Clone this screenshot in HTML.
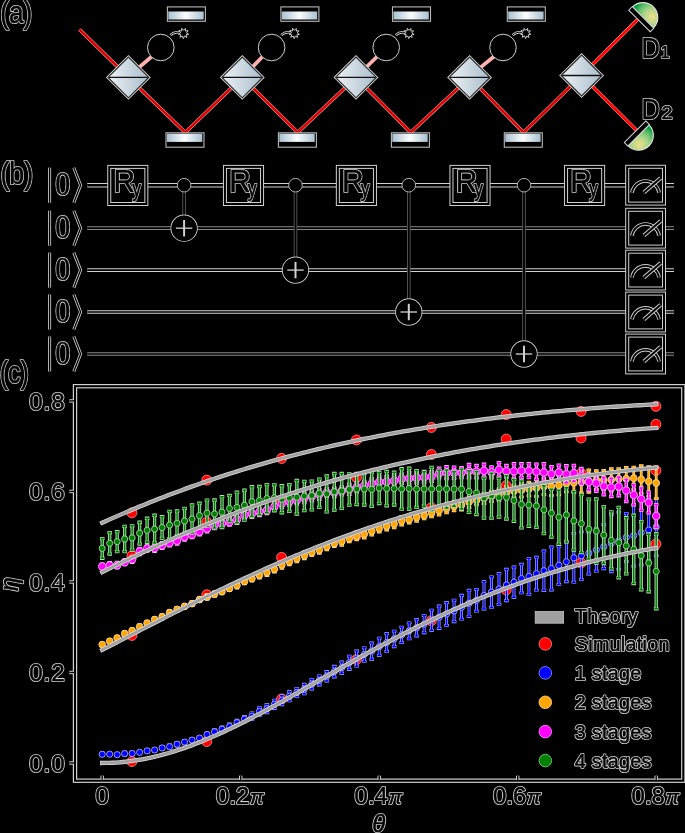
<!DOCTYPE html>
<html><head><meta charset="utf-8"><style>
html,body{margin:0;padding:0;background:#000;}
svg{display:block;will-change:transform;}
text{font-family:"Liberation Sans", sans-serif;}
</style></head><body>
<svg width="685" height="833" viewBox="0 0 685 833">
<rect width="685" height="833" fill="#000"/>
<g transform="translate(0.3,23.1) scale(0.86,1)">
<text x="0" y="0" font-size="30.5" text-anchor="start" fill="#000" stroke="#d4d4d4" stroke-width="2.2" stroke-linejoin="round"  style="">(a)</text>
<text x="0" y="0" font-size="30.5" text-anchor="start" fill="#000" stroke="#000" stroke-width="0.5" stroke-linejoin="round"  style="">(a)</text>
</g>
<path d="M79.5,29.5 L128.4,77.4 L185.3,132.5 L242.3,77.4 L297.7,132.5 L356,77.4 L410.7,132.5 L469.6,77.4 L523.6,132.5 L581.6,75.5" fill="none" stroke="#f4a8a8" stroke-width="3.6" stroke-linejoin="miter"/>
<path d="M79.5,29.5 L128.4,77.4 L185.3,132.5 L242.3,77.4 L297.7,132.5 L356,77.4 L410.7,132.5 L469.6,77.4 L523.6,132.5 L581.6,75.5" fill="none" stroke="#d80000" stroke-width="2.5" stroke-linejoin="miter"/>
<path d="M581.6,75.5 L637.6,19.6" fill="none" stroke="#f4a8a8" stroke-width="3.6" stroke-linejoin="miter"/>
<path d="M581.6,75.5 L637.6,19.6" fill="none" stroke="#ff0000" stroke-width="2.5" stroke-linejoin="miter"/>
<path d="M581.6,75.5 L637.2,131" fill="none" stroke="#f4a8a8" stroke-width="3.6" stroke-linejoin="miter"/>
<path d="M581.6,75.5 L637.2,131" fill="none" stroke="#ff0000" stroke-width="2.5" stroke-linejoin="miter"/>
<line x1="134.4" y1="71.4" x2="151.8" y2="56.5" stroke="#ffb0b0" stroke-width="3.7"/>
<line x1="248.3" y1="71.4" x2="262.6" y2="56.5" stroke="#ffb0b0" stroke-width="3.7"/>
<line x1="362" y1="71.4" x2="377.2" y2="56.5" stroke="#ffb0b0" stroke-width="3.7"/>
<line x1="475.6" y1="71.4" x2="494" y2="56.5" stroke="#ffb0b0" stroke-width="3.7"/>
<defs>
<linearGradient id="bsg" x1="0" y1="0" x2="1" y2="0">
<stop offset="0" stop-color="#eef2f5"/><stop offset="1" stop-color="#a9bccb"/></linearGradient>
<linearGradient id="mg" x1="0" y1="0" x2="1" y2="0">
<stop offset="0" stop-color="#a9c0cf"/><stop offset="0.5" stop-color="#fbfdfe"/><stop offset="1" stop-color="#a9c0cf"/></linearGradient>
<radialGradient id="dg" gradientUnits="userSpaceOnUse" cx="6" cy="-7" r="19">
<stop offset="0" stop-color="#f3df88"/><stop offset="0.45" stop-color="#a6d588"/><stop offset="0.78" stop-color="#57b866"/><stop offset="1" stop-color="#07a040"/></radialGradient>
</defs>
<path d="M108,77.4 L128.4,57 L148.8,77.4 L128.4,97.8 Z" fill="none" stroke="#d8d8d8" stroke-width="2.9" stroke-linejoin="miter"/>
<path d="M108,77.4 L128.4,57 L148.8,77.4 L128.4,97.8 Z" fill="url(#bsg)" stroke="#222" stroke-width="1.1"/>
<line x1="109" y1="77.4" x2="147.8" y2="77.4" stroke="#111" stroke-width="1.4"/>
<path d="M221.9,77.4 L242.3,57 L262.7,77.4 L242.3,97.8 Z" fill="none" stroke="#d8d8d8" stroke-width="2.9" stroke-linejoin="miter"/>
<path d="M221.9,77.4 L242.3,57 L262.7,77.4 L242.3,97.8 Z" fill="url(#bsg)" stroke="#222" stroke-width="1.1"/>
<line x1="222.9" y1="77.4" x2="261.7" y2="77.4" stroke="#111" stroke-width="1.4"/>
<path d="M335.6,77.4 L356,57 L376.4,77.4 L356,97.8 Z" fill="none" stroke="#d8d8d8" stroke-width="2.9" stroke-linejoin="miter"/>
<path d="M335.6,77.4 L356,57 L376.4,77.4 L356,97.8 Z" fill="url(#bsg)" stroke="#222" stroke-width="1.1"/>
<line x1="336.6" y1="77.4" x2="375.4" y2="77.4" stroke="#111" stroke-width="1.4"/>
<path d="M449.2,77.4 L469.6,57 L490,77.4 L469.6,97.8 Z" fill="none" stroke="#d8d8d8" stroke-width="2.9" stroke-linejoin="miter"/>
<path d="M449.2,77.4 L469.6,57 L490,77.4 L469.6,97.8 Z" fill="url(#bsg)" stroke="#222" stroke-width="1.1"/>
<line x1="450.2" y1="77.4" x2="489" y2="77.4" stroke="#111" stroke-width="1.4"/>
<path d="M561.2,75.5 L581.6,55.1 L602,75.5 L581.6,95.9 Z" fill="none" stroke="#d8d8d8" stroke-width="2.9" stroke-linejoin="miter"/>
<path d="M561.2,75.5 L581.6,55.1 L602,75.5 L581.6,95.9 Z" fill="url(#bsg)" stroke="#222" stroke-width="1.1"/>
<line x1="562.2" y1="75.5" x2="601" y2="75.5" stroke="#111" stroke-width="1.4"/>
<rect x="167.4" y="6.9" width="38" height="14.4" fill="#000" stroke="#b8b8b8" stroke-width="1.1"/>
<rect x="168.3" y="11.5" width="35.4" height="8.0" fill="url(#mg)"/>
<rect x="280.9" y="6.9" width="38" height="14.4" fill="#000" stroke="#b8b8b8" stroke-width="1.1"/>
<rect x="281.8" y="11.5" width="35.4" height="8.0" fill="url(#mg)"/>
<rect x="392.5" y="6.9" width="38" height="14.4" fill="#000" stroke="#b8b8b8" stroke-width="1.1"/>
<rect x="393.4" y="11.5" width="35.4" height="8.0" fill="url(#mg)"/>
<rect x="507.3" y="6.9" width="38" height="14.4" fill="#000" stroke="#b8b8b8" stroke-width="1.1"/>
<rect x="508.2" y="11.5" width="35.4" height="8.0" fill="url(#mg)"/>
<rect x="166" y="132.8" width="38" height="14.4" fill="#000" stroke="#b8b8b8" stroke-width="1.1"/>
<rect x="166.9" y="133.7" width="35.4" height="8.2" fill="url(#mg)"/>
<rect x="278.4" y="132.8" width="38" height="14.4" fill="#000" stroke="#b8b8b8" stroke-width="1.1"/>
<rect x="279.3" y="133.7" width="35.4" height="8.2" fill="url(#mg)"/>
<rect x="391.4" y="132.8" width="38" height="14.4" fill="#000" stroke="#b8b8b8" stroke-width="1.1"/>
<rect x="392.3" y="133.7" width="35.4" height="8.2" fill="url(#mg)"/>
<rect x="504.3" y="132.8" width="38" height="14.4" fill="#000" stroke="#b8b8b8" stroke-width="1.1"/>
<rect x="505.2" y="133.7" width="35.4" height="8.2" fill="url(#mg)"/>
<circle cx="160.8" cy="47.5" r="13.3" fill="#000" stroke="#cfcfcf" stroke-width="1.0"/>
<path d="M170.4,35.2 Q174.3,31.3 180.3,32.5" fill="none" stroke="#d8d8d8" stroke-width="2.4"/>
<path d="M170.4,35.2 Q174.3,31.3 180.3,32.5" fill="none" stroke="#000" stroke-width="1.0"/>
<polygon points="188.69,34.35 186.06,34.87 186.8,37.45 184.45,36.14 183.37,38.6 182.4,36.09 179.99,37.27 180.86,34.73 178.26,34.09 180.56,32.7 178.98,30.53 181.63,30.95 181.81,28.28 183.58,30.3 185.44,28.37 185.49,31.05 188.16,30.77 186.47,32.85" fill="#000" stroke="#e0e0e0" stroke-width="0.9"/>
<circle cx="271.6" cy="47.5" r="13.3" fill="#000" stroke="#cfcfcf" stroke-width="1.0"/>
<path d="M281.2,35.2 Q285.1,31.3 291.1,32.5" fill="none" stroke="#d8d8d8" stroke-width="2.4"/>
<path d="M281.2,35.2 Q285.1,31.3 291.1,32.5" fill="none" stroke="#000" stroke-width="1.0"/>
<polygon points="299.49,34.35 296.86,34.87 297.6,37.45 295.25,36.14 294.17,38.6 293.2,36.09 290.79,37.27 291.66,34.73 289.06,34.09 291.36,32.7 289.78,30.53 292.43,30.95 292.61,28.28 294.38,30.3 296.24,28.37 296.29,31.05 298.96,30.77 297.27,32.85" fill="#000" stroke="#e0e0e0" stroke-width="0.9"/>
<circle cx="386.2" cy="47.5" r="13.3" fill="#000" stroke="#cfcfcf" stroke-width="1.0"/>
<path d="M395.8,35.2 Q399.7,31.3 405.7,32.5" fill="none" stroke="#d8d8d8" stroke-width="2.4"/>
<path d="M395.8,35.2 Q399.7,31.3 405.7,32.5" fill="none" stroke="#000" stroke-width="1.0"/>
<polygon points="414.09,34.35 411.46,34.87 412.2,37.45 409.85,36.14 408.77,38.6 407.8,36.09 405.39,37.27 406.26,34.73 403.66,34.09 405.96,32.7 404.38,30.53 407.03,30.95 407.21,28.28 408.98,30.3 410.84,28.37 410.89,31.05 413.56,30.77 411.87,32.85" fill="#000" stroke="#e0e0e0" stroke-width="0.9"/>
<circle cx="503" cy="47.5" r="13.3" fill="#000" stroke="#cfcfcf" stroke-width="1.0"/>
<path d="M512.6,35.2 Q516.5,31.3 522.5,32.5" fill="none" stroke="#d8d8d8" stroke-width="2.4"/>
<path d="M512.6,35.2 Q516.5,31.3 522.5,32.5" fill="none" stroke="#000" stroke-width="1.0"/>
<polygon points="530.89,34.35 528.26,34.87 529,37.45 526.65,36.14 525.57,38.6 524.6,36.09 522.19,37.27 523.06,34.73 520.46,34.09 522.76,32.7 521.18,30.53 523.83,30.95 524.01,28.28 525.78,30.3 527.64,28.37 527.69,31.05 530.36,30.77 528.67,32.85" fill="#000" stroke="#e0e0e0" stroke-width="0.9"/>
<g transform="translate(643,17.4) rotate(45)">
<path d="M-14.8,0 A14.8,14.8 0 0 1 14.8,0 Z" fill="url(#dg)" stroke="#e4e4e4" stroke-width="1.1"/>
<rect x="-15.2" y="0" width="30.4" height="5.0" fill="#000" stroke="#d8d8d8" stroke-width="1.0"/>
</g>
<g transform="translate(638.6,135.3) rotate(135)">
<path d="M-14.8,0 A14.8,14.8 0 0 1 14.8,0 Z" fill="url(#dg)" stroke="#e4e4e4" stroke-width="1.1"/>
<rect x="-15.2" y="0" width="30.4" height="5.0" fill="#000" stroke="#d8d8d8" stroke-width="1.0"/>
</g>
<g transform="translate(641.5,58.3) scale(0.86,1)">
<text x="0" y="0" font-size="29.5" text-anchor="start" fill="#000" stroke="#d4d4d4" stroke-width="2.1" stroke-linejoin="round"  style="">D</text>
<text x="0" y="0" font-size="29.5" text-anchor="start" fill="#000" stroke="#000" stroke-width="0.5" stroke-linejoin="round"  style="">D</text>
</g>
<text x="660.5" y="58.3" font-size="16.5" text-anchor="start" fill="#000" stroke="#d4d4d4" stroke-width="2" stroke-linejoin="round"  style="">1</text>
<text x="660.5" y="58.3" font-size="16.5" text-anchor="start" fill="#000" stroke="#000" stroke-width="0.5" stroke-linejoin="round"  style="">1</text>
<g transform="translate(641.5,118.5) scale(0.86,1)">
<text x="0" y="0" font-size="29.5" text-anchor="start" fill="#000" stroke="#d4d4d4" stroke-width="2.1" stroke-linejoin="round"  style="">D</text>
<text x="0" y="0" font-size="29.5" text-anchor="start" fill="#000" stroke="#000" stroke-width="0.5" stroke-linejoin="round"  style="">D</text>
</g>
<g transform="translate(661.6,118.6) scale(1.12,1)">
<text x="0" y="0" font-size="17.8" text-anchor="start" fill="#000" stroke="#d4d4d4" stroke-width="2" stroke-linejoin="round"  style="">2</text>
<text x="0" y="0" font-size="17.8" text-anchor="start" fill="#000" stroke="#000" stroke-width="0.5" stroke-linejoin="round"  style="">2</text>
</g>
<g transform="translate(0.4,184.2) scale(0.88,1)">
<text x="0" y="0" font-size="30.5" text-anchor="start" fill="#000" stroke="#d4d4d4" stroke-width="2.2" stroke-linejoin="round"  style="">(b)</text>
<text x="0" y="0" font-size="30.5" text-anchor="start" fill="#000" stroke="#000" stroke-width="0.5" stroke-linejoin="round"  style="">(b)</text>
</g>
<line x1="87.2" y1="185.2" x2="674" y2="185.2" stroke="#d0d0d0" stroke-width="4.6" stroke-linecap="butt"/>
<line x1="87.2" y1="185.2" x2="674" y2="185.2" stroke="#000" stroke-width="2.6" stroke-linecap="butt"/>
<line x1="87.2" y1="228.2" x2="674" y2="228.2" stroke="#8a8a8a" stroke-width="3.7" stroke-linecap="butt"/>
<line x1="87.2" y1="228.2" x2="674" y2="228.2" stroke="#000" stroke-width="1.7" stroke-linecap="butt"/>
<line x1="87.2" y1="270.1" x2="674" y2="270.1" stroke="#d0d0d0" stroke-width="3.7" stroke-linecap="butt"/>
<line x1="87.2" y1="270.1" x2="674" y2="270.1" stroke="#000" stroke-width="1.7" stroke-linecap="butt"/>
<line x1="87.2" y1="312" x2="674" y2="312" stroke="#d0d0d0" stroke-width="3.7" stroke-linecap="butt"/>
<line x1="87.2" y1="312" x2="674" y2="312" stroke="#000" stroke-width="1.7" stroke-linecap="butt"/>
<line x1="87.2" y1="354" x2="674" y2="354" stroke="#8a8a8a" stroke-width="3.7" stroke-linecap="butt"/>
<line x1="87.2" y1="354" x2="674" y2="354" stroke="#000" stroke-width="1.7" stroke-linecap="butt"/>
<line x1="49.6" y1="167.7" x2="49.6" y2="202.7" stroke="#d0d0d0" stroke-width="3" stroke-linecap="butt"/>
<line x1="49.6" y1="167.7" x2="49.6" y2="202.7" stroke="#000" stroke-width="1.3" stroke-linecap="butt"/>
<path d="M73.8,167.7 L80.6,185.2 L73.8,202.7" fill="none" stroke="#d0d0d0" stroke-width="3.0"/>
<path d="M73.8,167.7 L80.6,185.2 L73.8,202.7" fill="none" stroke="#000" stroke-width="1.3"/>
<g transform="translate(55.3,195.2) scale(0.87,1)">
<text x="0" y="0" font-size="34.5" text-anchor="start" fill="#000" stroke="#d4d4d4" stroke-width="2.1" stroke-linejoin="round"  style="font-family:'Liberation Serif',serif">0</text>
<text x="0" y="0" font-size="34.5" text-anchor="start" fill="#000" stroke="#000" stroke-width="0.5" stroke-linejoin="round"  style="font-family:'Liberation Serif',serif">0</text>
</g>
<line x1="49.6" y1="210.7" x2="49.6" y2="245.7" stroke="#d0d0d0" stroke-width="3" stroke-linecap="butt"/>
<line x1="49.6" y1="210.7" x2="49.6" y2="245.7" stroke="#000" stroke-width="1.3" stroke-linecap="butt"/>
<path d="M73.8,210.7 L80.6,228.2 L73.8,245.7" fill="none" stroke="#d0d0d0" stroke-width="3.0"/>
<path d="M73.8,210.7 L80.6,228.2 L73.8,245.7" fill="none" stroke="#000" stroke-width="1.3"/>
<g transform="translate(55.3,238.2) scale(0.87,1)">
<text x="0" y="0" font-size="34.5" text-anchor="start" fill="#000" stroke="#d4d4d4" stroke-width="2.1" stroke-linejoin="round"  style="font-family:'Liberation Serif',serif">0</text>
<text x="0" y="0" font-size="34.5" text-anchor="start" fill="#000" stroke="#000" stroke-width="0.5" stroke-linejoin="round"  style="font-family:'Liberation Serif',serif">0</text>
</g>
<line x1="49.6" y1="252.6" x2="49.6" y2="287.6" stroke="#d0d0d0" stroke-width="3" stroke-linecap="butt"/>
<line x1="49.6" y1="252.6" x2="49.6" y2="287.6" stroke="#000" stroke-width="1.3" stroke-linecap="butt"/>
<path d="M73.8,252.6 L80.6,270.1 L73.8,287.6" fill="none" stroke="#d0d0d0" stroke-width="3.0"/>
<path d="M73.8,252.6 L80.6,270.1 L73.8,287.6" fill="none" stroke="#000" stroke-width="1.3"/>
<g transform="translate(55.3,280.1) scale(0.87,1)">
<text x="0" y="0" font-size="34.5" text-anchor="start" fill="#000" stroke="#d4d4d4" stroke-width="2.1" stroke-linejoin="round"  style="font-family:'Liberation Serif',serif">0</text>
<text x="0" y="0" font-size="34.5" text-anchor="start" fill="#000" stroke="#000" stroke-width="0.5" stroke-linejoin="round"  style="font-family:'Liberation Serif',serif">0</text>
</g>
<line x1="49.6" y1="294.5" x2="49.6" y2="329.5" stroke="#d0d0d0" stroke-width="3" stroke-linecap="butt"/>
<line x1="49.6" y1="294.5" x2="49.6" y2="329.5" stroke="#000" stroke-width="1.3" stroke-linecap="butt"/>
<path d="M73.8,294.5 L80.6,312 L73.8,329.5" fill="none" stroke="#d0d0d0" stroke-width="3.0"/>
<path d="M73.8,294.5 L80.6,312 L73.8,329.5" fill="none" stroke="#000" stroke-width="1.3"/>
<g transform="translate(55.3,322) scale(0.87,1)">
<text x="0" y="0" font-size="34.5" text-anchor="start" fill="#000" stroke="#d4d4d4" stroke-width="2.1" stroke-linejoin="round"  style="font-family:'Liberation Serif',serif">0</text>
<text x="0" y="0" font-size="34.5" text-anchor="start" fill="#000" stroke="#000" stroke-width="0.5" stroke-linejoin="round"  style="font-family:'Liberation Serif',serif">0</text>
</g>
<line x1="49.6" y1="336.5" x2="49.6" y2="371.5" stroke="#d0d0d0" stroke-width="3" stroke-linecap="butt"/>
<line x1="49.6" y1="336.5" x2="49.6" y2="371.5" stroke="#000" stroke-width="1.3" stroke-linecap="butt"/>
<path d="M73.8,336.5 L80.6,354 L73.8,371.5" fill="none" stroke="#d0d0d0" stroke-width="3.0"/>
<path d="M73.8,336.5 L80.6,354 L73.8,371.5" fill="none" stroke="#000" stroke-width="1.3"/>
<g transform="translate(55.3,364) scale(0.87,1)">
<text x="0" y="0" font-size="34.5" text-anchor="start" fill="#000" stroke="#d4d4d4" stroke-width="2.1" stroke-linejoin="round"  style="font-family:'Liberation Serif',serif">0</text>
<text x="0" y="0" font-size="34.5" text-anchor="start" fill="#000" stroke="#000" stroke-width="0.5" stroke-linejoin="round"  style="font-family:'Liberation Serif',serif">0</text>
</g>
<line x1="184.1" y1="185.2" x2="184.1" y2="228.2" stroke="#5a5a5a" stroke-width="3.6"/>
<line x1="184.1" y1="185.2" x2="184.1" y2="228.2" stroke="#000" stroke-width="1.8"/>
<line x1="295.5" y1="185.2" x2="295.5" y2="270.1" stroke="#5a5a5a" stroke-width="3.6"/>
<line x1="295.5" y1="185.2" x2="295.5" y2="270.1" stroke="#000" stroke-width="1.8"/>
<line x1="408.8" y1="185.2" x2="408.8" y2="312" stroke="#5a5a5a" stroke-width="3.6"/>
<line x1="408.8" y1="185.2" x2="408.8" y2="312" stroke="#000" stroke-width="1.8"/>
<line x1="524" y1="185.2" x2="524" y2="354" stroke="#5a5a5a" stroke-width="3.6"/>
<line x1="524" y1="185.2" x2="524" y2="354" stroke="#000" stroke-width="1.8"/>
<rect x="109.25" y="166.9" width="37.1" height="37.1" fill="#000" stroke="#d0d0d0" stroke-width="4.0"/>
<rect x="109.25" y="166.9" width="37.1" height="37.1" fill="none" stroke="#000" stroke-width="2.0"/>
<g transform="translate(113.45,191.8) scale(0.95,1)">
<text x="0" y="0" font-size="31.5" text-anchor="start" fill="#000" stroke="#d4d4d4" stroke-width="2.2" stroke-linejoin="round"  style="">R</text>
<text x="0" y="0" font-size="31.5" text-anchor="start" fill="#000" stroke="#000" stroke-width="0.5" stroke-linejoin="round"  style="">R</text>
</g>
<g transform="translate(132.15,195.8) scale(0.8,1)">
<text x="0" y="0" font-size="22" text-anchor="start" fill="#000" stroke="#d4d4d4" stroke-width="2.1" stroke-linejoin="round"  style="">y</text>
<text x="0" y="0" font-size="22" text-anchor="start" fill="#000" stroke="#000" stroke-width="0.5" stroke-linejoin="round"  style="">y</text>
</g>
<rect x="224.95" y="166.9" width="37.1" height="37.1" fill="#000" stroke="#d0d0d0" stroke-width="4.0"/>
<rect x="224.95" y="166.9" width="37.1" height="37.1" fill="none" stroke="#000" stroke-width="2.0"/>
<g transform="translate(229.15,191.8) scale(0.95,1)">
<text x="0" y="0" font-size="31.5" text-anchor="start" fill="#000" stroke="#d4d4d4" stroke-width="2.2" stroke-linejoin="round"  style="">R</text>
<text x="0" y="0" font-size="31.5" text-anchor="start" fill="#000" stroke="#000" stroke-width="0.5" stroke-linejoin="round"  style="">R</text>
</g>
<g transform="translate(247.85,195.8) scale(0.8,1)">
<text x="0" y="0" font-size="22" text-anchor="start" fill="#000" stroke="#d4d4d4" stroke-width="2.1" stroke-linejoin="round"  style="">y</text>
<text x="0" y="0" font-size="22" text-anchor="start" fill="#000" stroke="#000" stroke-width="0.5" stroke-linejoin="round"  style="">y</text>
</g>
<rect x="337.85" y="166.9" width="37.1" height="37.1" fill="#000" stroke="#d0d0d0" stroke-width="4.0"/>
<rect x="337.85" y="166.9" width="37.1" height="37.1" fill="none" stroke="#000" stroke-width="2.0"/>
<g transform="translate(342.05,191.8) scale(0.95,1)">
<text x="0" y="0" font-size="31.5" text-anchor="start" fill="#000" stroke="#d4d4d4" stroke-width="2.2" stroke-linejoin="round"  style="">R</text>
<text x="0" y="0" font-size="31.5" text-anchor="start" fill="#000" stroke="#000" stroke-width="0.5" stroke-linejoin="round"  style="">R</text>
</g>
<g transform="translate(360.75,195.8) scale(0.8,1)">
<text x="0" y="0" font-size="22" text-anchor="start" fill="#000" stroke="#d4d4d4" stroke-width="2.1" stroke-linejoin="round"  style="">y</text>
<text x="0" y="0" font-size="22" text-anchor="start" fill="#000" stroke="#000" stroke-width="0.5" stroke-linejoin="round"  style="">y</text>
</g>
<rect x="451.45" y="166.9" width="37.1" height="37.1" fill="#000" stroke="#d0d0d0" stroke-width="4.0"/>
<rect x="451.45" y="166.9" width="37.1" height="37.1" fill="none" stroke="#000" stroke-width="2.0"/>
<g transform="translate(455.65,191.8) scale(0.95,1)">
<text x="0" y="0" font-size="31.5" text-anchor="start" fill="#000" stroke="#d4d4d4" stroke-width="2.2" stroke-linejoin="round"  style="">R</text>
<text x="0" y="0" font-size="31.5" text-anchor="start" fill="#000" stroke="#000" stroke-width="0.5" stroke-linejoin="round"  style="">R</text>
</g>
<g transform="translate(474.35,195.8) scale(0.8,1)">
<text x="0" y="0" font-size="22" text-anchor="start" fill="#000" stroke="#d4d4d4" stroke-width="2.1" stroke-linejoin="round"  style="">y</text>
<text x="0" y="0" font-size="22" text-anchor="start" fill="#000" stroke="#000" stroke-width="0.5" stroke-linejoin="round"  style="">y</text>
</g>
<rect x="566.05" y="166.9" width="37.1" height="37.1" fill="#000" stroke="#d0d0d0" stroke-width="4.0"/>
<rect x="566.05" y="166.9" width="37.1" height="37.1" fill="none" stroke="#000" stroke-width="2.0"/>
<g transform="translate(570.25,191.8) scale(0.95,1)">
<text x="0" y="0" font-size="31.5" text-anchor="start" fill="#000" stroke="#d4d4d4" stroke-width="2.2" stroke-linejoin="round"  style="">R</text>
<text x="0" y="0" font-size="31.5" text-anchor="start" fill="#000" stroke="#000" stroke-width="0.5" stroke-linejoin="round"  style="">R</text>
</g>
<g transform="translate(588.95,195.8) scale(0.8,1)">
<text x="0" y="0" font-size="22" text-anchor="start" fill="#000" stroke="#d4d4d4" stroke-width="2.1" stroke-linejoin="round"  style="">y</text>
<text x="0" y="0" font-size="22" text-anchor="start" fill="#000" stroke="#000" stroke-width="0.5" stroke-linejoin="round"  style="">y</text>
</g>
<circle cx="184.1" cy="185.2" r="6.8" fill="#000" stroke="#b0b0b0" stroke-width="1.0"/>
<circle cx="184.1" cy="228.2" r="13.0" fill="#000" stroke="#c8c8c8" stroke-width="1.3"/>
<circle cx="184.1" cy="228.2" r="12.0" fill="#000" stroke="#000" stroke-width="1.4"/>
<line x1="175.9" y1="228.2" x2="192.3" y2="228.2" stroke="#b8b8b8" stroke-width="1.5"/>
<line x1="184.1" y1="220" x2="184.1" y2="236.4" stroke="#d0d0d0" stroke-width="2.0"/>
<circle cx="295.5" cy="185.2" r="6.8" fill="#000" stroke="#b0b0b0" stroke-width="1.0"/>
<circle cx="295.5" cy="270.1" r="13.0" fill="#000" stroke="#c8c8c8" stroke-width="1.3"/>
<circle cx="295.5" cy="270.1" r="12.0" fill="#000" stroke="#000" stroke-width="1.4"/>
<line x1="287.3" y1="270.1" x2="303.7" y2="270.1" stroke="#b8b8b8" stroke-width="1.5"/>
<line x1="295.5" y1="261.9" x2="295.5" y2="278.3" stroke="#d0d0d0" stroke-width="2.0"/>
<circle cx="408.8" cy="185.2" r="6.8" fill="#000" stroke="#b0b0b0" stroke-width="1.0"/>
<circle cx="408.8" cy="312" r="13.0" fill="#000" stroke="#c8c8c8" stroke-width="1.3"/>
<circle cx="408.8" cy="312" r="12.0" fill="#000" stroke="#000" stroke-width="1.4"/>
<line x1="400.6" y1="312" x2="417" y2="312" stroke="#b8b8b8" stroke-width="1.5"/>
<line x1="408.8" y1="303.8" x2="408.8" y2="320.2" stroke="#d0d0d0" stroke-width="2.0"/>
<circle cx="524" cy="185.2" r="6.8" fill="#000" stroke="#b0b0b0" stroke-width="1.0"/>
<circle cx="524" cy="354" r="13.0" fill="#000" stroke="#c8c8c8" stroke-width="1.3"/>
<circle cx="524" cy="354" r="12.0" fill="#000" stroke="#000" stroke-width="1.4"/>
<line x1="515.8" y1="354" x2="532.2" y2="354" stroke="#b8b8b8" stroke-width="1.5"/>
<line x1="524" y1="345.8" x2="524" y2="362.2" stroke="#d0d0d0" stroke-width="2.0"/>
<rect x="627.2" y="166.8" width="36.8" height="36.8" fill="#000" stroke="#d0d0d0" stroke-width="4.0"/>
<rect x="627.2" y="166.8" width="36.8" height="36.8" fill="none" stroke="#000" stroke-width="2.0"/>
<path d="M631.9,192.6 A13.8,14 0 0 1 659.1,192.6" fill="none" stroke="#d0d0d0" stroke-width="3.6"/>
<path d="M631.9,192.6 A13.8,14 0 0 1 659.1,192.6" fill="none" stroke="#000" stroke-width="1.7"/>
<line x1="643.9" y1="192.6" x2="660.7" y2="178" stroke="#d0d0d0" stroke-width="4.0"/>
<line x1="643.9" y1="192.6" x2="660.7" y2="178" stroke="#000" stroke-width="2.0"/>
<rect x="627.2" y="209.8" width="36.8" height="36.8" fill="#000" stroke="#d0d0d0" stroke-width="4.0"/>
<rect x="627.2" y="209.8" width="36.8" height="36.8" fill="none" stroke="#000" stroke-width="2.0"/>
<path d="M631.9,235.6 A13.8,14 0 0 1 659.1,235.6" fill="none" stroke="#d0d0d0" stroke-width="3.6"/>
<path d="M631.9,235.6 A13.8,14 0 0 1 659.1,235.6" fill="none" stroke="#000" stroke-width="1.7"/>
<line x1="643.9" y1="235.6" x2="660.7" y2="221" stroke="#d0d0d0" stroke-width="4.0"/>
<line x1="643.9" y1="235.6" x2="660.7" y2="221" stroke="#000" stroke-width="2.0"/>
<rect x="627.2" y="251.7" width="36.8" height="36.8" fill="#000" stroke="#d0d0d0" stroke-width="4.0"/>
<rect x="627.2" y="251.7" width="36.8" height="36.8" fill="none" stroke="#000" stroke-width="2.0"/>
<path d="M631.9,277.5 A13.8,14 0 0 1 659.1,277.5" fill="none" stroke="#d0d0d0" stroke-width="3.6"/>
<path d="M631.9,277.5 A13.8,14 0 0 1 659.1,277.5" fill="none" stroke="#000" stroke-width="1.7"/>
<line x1="643.9" y1="277.5" x2="660.7" y2="262.9" stroke="#d0d0d0" stroke-width="4.0"/>
<line x1="643.9" y1="277.5" x2="660.7" y2="262.9" stroke="#000" stroke-width="2.0"/>
<rect x="627.2" y="293.6" width="36.8" height="36.8" fill="#000" stroke="#d0d0d0" stroke-width="4.0"/>
<rect x="627.2" y="293.6" width="36.8" height="36.8" fill="none" stroke="#000" stroke-width="2.0"/>
<path d="M631.9,319.4 A13.8,14 0 0 1 659.1,319.4" fill="none" stroke="#d0d0d0" stroke-width="3.6"/>
<path d="M631.9,319.4 A13.8,14 0 0 1 659.1,319.4" fill="none" stroke="#000" stroke-width="1.7"/>
<line x1="643.9" y1="319.4" x2="660.7" y2="304.8" stroke="#d0d0d0" stroke-width="4.0"/>
<line x1="643.9" y1="319.4" x2="660.7" y2="304.8" stroke="#000" stroke-width="2.0"/>
<rect x="627.2" y="335.6" width="36.8" height="36.8" fill="#000" stroke="#d0d0d0" stroke-width="4.0"/>
<rect x="627.2" y="335.6" width="36.8" height="36.8" fill="none" stroke="#000" stroke-width="2.0"/>
<path d="M631.9,361.4 A13.8,14 0 0 1 659.1,361.4" fill="none" stroke="#d0d0d0" stroke-width="3.6"/>
<path d="M631.9,361.4 A13.8,14 0 0 1 659.1,361.4" fill="none" stroke="#000" stroke-width="1.7"/>
<line x1="643.9" y1="361.4" x2="660.7" y2="346.8" stroke="#d0d0d0" stroke-width="4.0"/>
<line x1="643.9" y1="361.4" x2="660.7" y2="346.8" stroke="#000" stroke-width="2.0"/>
<g transform="translate(-0.3,383.0) scale(0.82,1)">
<text x="0" y="0" font-size="30.5" text-anchor="start" fill="#000" stroke="#d4d4d4" stroke-width="2.2" stroke-linejoin="round"  style="">(c)</text>
<text x="0" y="0" font-size="30.5" text-anchor="start" fill="#000" stroke="#000" stroke-width="0.5" stroke-linejoin="round"  style="">(c)</text>
</g>
<clipPath id="cp"><rect x="75.0" y="386.2" width="608.3" height="394.50000000000006"/></clipPath>
<g clip-path="url(#cp)">
<circle cx="131.91" cy="761.56" r="5.0" fill="#ff0000" stroke="#ff9090" stroke-width="0.8"/>
<circle cx="206.77" cy="741.52" r="5.0" fill="#ff0000" stroke="#ff9090" stroke-width="0.8"/>
<circle cx="281.63" cy="698.99" r="5.0" fill="#ff0000" stroke="#ff9090" stroke-width="0.8"/>
<circle cx="356.49" cy="659.45" r="5.0" fill="#ff0000" stroke="#ff9090" stroke-width="0.8"/>
<circle cx="431.35" cy="620.64" r="5.0" fill="#ff0000" stroke="#ff9090" stroke-width="0.8"/>
<circle cx="506.2" cy="589.95" r="5.0" fill="#ff0000" stroke="#ff9090" stroke-width="0.8"/>
<circle cx="581.06" cy="562.84" r="5.0" fill="#ff0000" stroke="#ff9090" stroke-width="0.8"/>
<circle cx="655.92" cy="543.99" r="5.0" fill="#ff0000" stroke="#ff9090" stroke-width="0.8"/>
<circle cx="131.91" cy="635.42" r="5.0" fill="#ff0000" stroke="#ff9090" stroke-width="0.8"/>
<circle cx="206.77" cy="594.75" r="5.0" fill="#ff0000" stroke="#ff9090" stroke-width="0.8"/>
<circle cx="281.63" cy="557.42" r="5.0" fill="#ff0000" stroke="#ff9090" stroke-width="0.8"/>
<circle cx="356.49" cy="535.26" r="5.0" fill="#ff0000" stroke="#ff9090" stroke-width="0.8"/>
<circle cx="431.35" cy="507.72" r="5.0" fill="#ff0000" stroke="#ff9090" stroke-width="0.8"/>
<circle cx="506.2" cy="485.66" r="5.0" fill="#ff0000" stroke="#ff9090" stroke-width="0.8"/>
<circle cx="581.06" cy="473.17" r="5.0" fill="#ff0000" stroke="#ff9090" stroke-width="0.8"/>
<circle cx="655.92" cy="470.49" r="5.0" fill="#ff0000" stroke="#ff9090" stroke-width="0.8"/>
<circle cx="131.91" cy="555.83" r="5.0" fill="#ff0000" stroke="#ff9090" stroke-width="0.8"/>
<circle cx="206.77" cy="522.02" r="5.0" fill="#ff0000" stroke="#ff9090" stroke-width="0.8"/>
<circle cx="281.63" cy="500.07" r="5.0" fill="#ff0000" stroke="#ff9090" stroke-width="0.8"/>
<circle cx="356.49" cy="477.36" r="5.0" fill="#ff0000" stroke="#ff9090" stroke-width="0.8"/>
<circle cx="431.35" cy="454.57" r="5.0" fill="#ff0000" stroke="#ff9090" stroke-width="0.8"/>
<circle cx="506.2" cy="439.15" r="5.0" fill="#ff0000" stroke="#ff9090" stroke-width="0.8"/>
<circle cx="581.06" cy="437.99" r="5.0" fill="#ff0000" stroke="#ff9090" stroke-width="0.8"/>
<circle cx="655.92" cy="424.28" r="5.0" fill="#ff0000" stroke="#ff9090" stroke-width="0.8"/>
<circle cx="131.91" cy="512.81" r="5.0" fill="#ff0000" stroke="#ff9090" stroke-width="0.8"/>
<circle cx="206.77" cy="480.11" r="5.0" fill="#ff0000" stroke="#ff9090" stroke-width="0.8"/>
<circle cx="281.63" cy="458.43" r="5.0" fill="#ff0000" stroke="#ff9090" stroke-width="0.8"/>
<circle cx="356.49" cy="439.92" r="5.0" fill="#ff0000" stroke="#ff9090" stroke-width="0.8"/>
<circle cx="431.35" cy="427.4" r="5.0" fill="#ff0000" stroke="#ff9090" stroke-width="0.8"/>
<circle cx="506.2" cy="414.56" r="5.0" fill="#ff0000" stroke="#ff9090" stroke-width="0.8"/>
<circle cx="581.06" cy="411.42" r="5.0" fill="#ff0000" stroke="#ff9090" stroke-width="0.8"/>
<circle cx="655.92" cy="406.34" r="5.0" fill="#ff0000" stroke="#ff9090" stroke-width="0.8"/>
<path d="M102.2,752.97V755.61M99.9,752.97H104.5M99.9,755.61H104.5M109.69,753.08V755.31M107.39,753.08H111.99M107.39,755.31H111.99M117.17,753.55V755.76M114.87,753.55H119.47M114.87,755.76H119.47M124.66,752.05V755.07M122.36,752.05H126.96M122.36,755.07H126.96M132.15,752.07V754.84M129.85,752.07H134.45M129.85,754.84H134.45M139.63,751.08V753.61M137.33,751.08H141.93M137.33,753.61H141.93M147.12,749.34V752.3M144.82,749.34H149.42M144.82,752.3H149.42M154.61,748.72V751.3M152.31,748.72H156.91M152.31,751.3H156.91M162.09,746.36V749.47M159.79,746.36H164.39M159.79,749.47H164.39M169.58,744.82V748.45M167.28,744.82H171.88M167.28,748.45H171.88M177.06,742.41V746.03M174.76,742.41H179.36M174.76,746.03H179.36M184.55,740.29V743.84M182.25,740.29H186.85M182.25,743.84H186.85M192.04,738.5V741.69M189.74,738.5H194.34M189.74,741.69H194.34M199.52,736.37V739.75M197.22,736.37H201.82M197.22,739.75H201.82M207.01,732.89V736.18M204.71,732.89H209.31M204.71,736.18H209.31M214.5,729.59V734.01M212.2,729.59H216.8M212.2,734.01H216.8M221.98,727.01V731.57M219.68,727.01H224.28M219.68,731.57H224.28M229.47,723.83V729.2M227.17,723.83H231.77M227.17,729.2H231.77M236.96,720.19V725.3M234.66,720.19H239.26M234.66,725.3H239.26M244.44,716.41V721.77M242.14,716.41H246.74M242.14,721.77H246.74M251.93,712.79V719.7M249.63,712.79H254.23M249.63,719.7H254.23M259.42,707.61V715.39M257.12,707.61H261.72M257.12,715.39H261.72M266.9,704.75V712.78M264.6,704.75H269.2M264.6,712.78H269.2M274.39,700.08V708.53M272.09,700.08H276.69M272.09,708.53H276.69M281.88,695.8V704.8M279.58,695.8H284.18M279.58,704.8H284.18M289.36,691.64V700.95M287.06,691.64H291.66M287.06,700.95H291.66M296.85,688.3V696.72M294.55,688.3H299.15M294.55,696.72H299.15M304.34,684.23V693.92M302.04,684.23H306.64M302.04,693.92H306.64M311.82,679.36V689.05M309.52,679.36H314.12M309.52,689.05H314.12M319.31,675.84V684.98M317.01,675.84H321.61M317.01,684.98H321.61M326.79,671.41V680.99M324.49,671.41H329.09M324.49,680.99H329.09M334.28,666.16V677.07M331.98,666.16H336.58M331.98,677.07H336.58M341.77,661.92V673.24M339.47,661.92H344.07M339.47,673.24H344.07M349.25,656.03V669.52M346.95,656.03H351.55M346.95,669.52H351.55M356.74,651.01V666.15M354.44,651.01H359.04M354.44,666.15H359.04M364.23,647.78V661.43M361.93,647.78H366.53M361.93,661.43H366.53M371.71,642.9V659.23M369.41,642.9H374.01M369.41,659.23H374.01M379.2,638.1V655.29M376.9,638.1H381.5M376.9,655.29H381.5M386.69,633.66V651.44M384.39,633.66H388.99M384.39,651.44H388.99M394.17,631.1V646.74M391.87,631.1H396.47M391.87,646.74H396.47M401.66,627.1V642.63M399.36,627.1H403.96M399.36,642.63H403.96M409.15,622.78V638.93M406.85,622.78H411.45M406.85,638.93H411.45M416.63,619.47V636.06M414.33,619.47H418.93M414.33,636.06H418.93M424.12,615.56V632.78M421.82,615.56H426.42M421.82,632.78H426.42M431.61,610.08V630.35M429.31,610.08H433.91M429.31,630.35H433.91M439.09,605.98V628.59M436.79,605.98H441.39M436.79,628.59H441.39M446.58,602.48V625.45M444.28,602.48H448.88M444.28,625.45H448.88M454.06,600.07V621.75M451.76,600.07H456.36M451.76,621.75H456.36M461.55,595.26V619.21M459.25,595.26H463.85M459.25,619.21H463.85M469.04,590.22V616.35M466.74,590.22H471.34M466.74,616.35H471.34M476.52,589.28V611.22M474.22,589.28H478.82M474.22,611.22H478.82M484.01,581.72V609.11M481.71,581.72H486.31M481.71,609.11H486.31M491.5,576.81V607.38M489.2,576.81H493.8M489.2,607.38H493.8M498.98,573.7V604.39M496.68,573.7H501.28M496.68,604.39H501.28M506.47,569.15V600.74M504.17,569.15H508.77M504.17,600.74H508.77M513.96,567.01V597.26M511.66,567.01H516.26M511.66,597.26H516.26M521.44,564.22V592.91M519.14,564.22H523.74M519.14,592.91H523.74M528.93,558.29V594.45M526.63,558.29H531.23M526.63,594.45H531.23M536.42,557.16V590.19M534.12,557.16H538.72M534.12,590.19H538.72M543.9,550.96V590.54M541.6,550.96H546.2M541.6,590.54H546.2M551.39,546.92V590.08M549.09,546.92H553.69M549.09,590.08H553.69M558.88,546.15V584.42M556.58,546.15H561.18M556.58,584.42H561.18M566.36,541.73V581.76M564.06,541.73H568.66M564.06,581.76H568.66M573.85,533.45V582.18M571.55,533.45H576.15M571.55,582.18H576.15M581.34,531.91V579.63M579.04,531.91H583.64M579.04,579.63H583.64M588.82,532.3V574.09M586.52,532.3H591.12M586.52,574.09H591.12M596.31,528.62V571.16M594.01,528.62H598.61M594.01,571.16H598.61M603.79,524.53V568.77M601.49,524.53H606.09M601.49,568.77H606.09M611.28,514.73V571.83M608.98,514.73H613.58M608.98,571.83H613.58M618.77,512.15V569.41M616.47,512.15H621.07M616.47,569.41H621.07M626.25,513.29V561.51M623.95,513.29H628.55M623.95,561.51H628.55M633.74,505.15V566.04M631.44,505.15H636.04M631.44,566.04H636.04M641.23,500.01V565.19M638.93,500.01H643.53M638.93,565.19H643.53M648.71,499.42V560.66M646.41,499.42H651.01M646.41,560.66H651.01M656.2,498.28V555.59M653.9,498.28H658.5M653.9,555.59H658.5" fill="none" stroke="#b4b4ff" stroke-width="2.8"/>
<path d="M102.2,752.97V755.61M100.3,752.97H104.1M100.3,755.61H104.1M109.69,753.08V755.31M107.79,753.08H111.59M107.79,755.31H111.59M117.17,753.55V755.76M115.27,753.55H119.07M115.27,755.76H119.07M124.66,752.05V755.07M122.76,752.05H126.56M122.76,755.07H126.56M132.15,752.07V754.84M130.25,752.07H134.05M130.25,754.84H134.05M139.63,751.08V753.61M137.73,751.08H141.53M137.73,753.61H141.53M147.12,749.34V752.3M145.22,749.34H149.02M145.22,752.3H149.02M154.61,748.72V751.3M152.71,748.72H156.51M152.71,751.3H156.51M162.09,746.36V749.47M160.19,746.36H163.99M160.19,749.47H163.99M169.58,744.82V748.45M167.68,744.82H171.48M167.68,748.45H171.48M177.06,742.41V746.03M175.16,742.41H178.96M175.16,746.03H178.96M184.55,740.29V743.84M182.65,740.29H186.45M182.65,743.84H186.45M192.04,738.5V741.69M190.14,738.5H193.94M190.14,741.69H193.94M199.52,736.37V739.75M197.62,736.37H201.42M197.62,739.75H201.42M207.01,732.89V736.18M205.11,732.89H208.91M205.11,736.18H208.91M214.5,729.59V734.01M212.6,729.59H216.4M212.6,734.01H216.4M221.98,727.01V731.57M220.08,727.01H223.88M220.08,731.57H223.88M229.47,723.83V729.2M227.57,723.83H231.37M227.57,729.2H231.37M236.96,720.19V725.3M235.06,720.19H238.86M235.06,725.3H238.86M244.44,716.41V721.77M242.54,716.41H246.34M242.54,721.77H246.34M251.93,712.79V719.7M250.03,712.79H253.83M250.03,719.7H253.83M259.42,707.61V715.39M257.52,707.61H261.32M257.52,715.39H261.32M266.9,704.75V712.78M265,704.75H268.8M265,712.78H268.8M274.39,700.08V708.53M272.49,700.08H276.29M272.49,708.53H276.29M281.88,695.8V704.8M279.98,695.8H283.78M279.98,704.8H283.78M289.36,691.64V700.95M287.46,691.64H291.26M287.46,700.95H291.26M296.85,688.3V696.72M294.95,688.3H298.75M294.95,696.72H298.75M304.34,684.23V693.92M302.44,684.23H306.24M302.44,693.92H306.24M311.82,679.36V689.05M309.92,679.36H313.72M309.92,689.05H313.72M319.31,675.84V684.98M317.41,675.84H321.21M317.41,684.98H321.21M326.79,671.41V680.99M324.89,671.41H328.69M324.89,680.99H328.69M334.28,666.16V677.07M332.38,666.16H336.18M332.38,677.07H336.18M341.77,661.92V673.24M339.87,661.92H343.67M339.87,673.24H343.67M349.25,656.03V669.52M347.35,656.03H351.15M347.35,669.52H351.15M356.74,651.01V666.15M354.84,651.01H358.64M354.84,666.15H358.64M364.23,647.78V661.43M362.33,647.78H366.13M362.33,661.43H366.13M371.71,642.9V659.23M369.81,642.9H373.61M369.81,659.23H373.61M379.2,638.1V655.29M377.3,638.1H381.1M377.3,655.29H381.1M386.69,633.66V651.44M384.79,633.66H388.59M384.79,651.44H388.59M394.17,631.1V646.74M392.27,631.1H396.07M392.27,646.74H396.07M401.66,627.1V642.63M399.76,627.1H403.56M399.76,642.63H403.56M409.15,622.78V638.93M407.25,622.78H411.05M407.25,638.93H411.05M416.63,619.47V636.06M414.73,619.47H418.53M414.73,636.06H418.53M424.12,615.56V632.78M422.22,615.56H426.02M422.22,632.78H426.02M431.61,610.08V630.35M429.71,610.08H433.51M429.71,630.35H433.51M439.09,605.98V628.59M437.19,605.98H440.99M437.19,628.59H440.99M446.58,602.48V625.45M444.68,602.48H448.48M444.68,625.45H448.48M454.06,600.07V621.75M452.16,600.07H455.96M452.16,621.75H455.96M461.55,595.26V619.21M459.65,595.26H463.45M459.65,619.21H463.45M469.04,590.22V616.35M467.14,590.22H470.94M467.14,616.35H470.94M476.52,589.28V611.22M474.62,589.28H478.42M474.62,611.22H478.42M484.01,581.72V609.11M482.11,581.72H485.91M482.11,609.11H485.91M491.5,576.81V607.38M489.6,576.81H493.4M489.6,607.38H493.4M498.98,573.7V604.39M497.08,573.7H500.88M497.08,604.39H500.88M506.47,569.15V600.74M504.57,569.15H508.37M504.57,600.74H508.37M513.96,567.01V597.26M512.06,567.01H515.86M512.06,597.26H515.86M521.44,564.22V592.91M519.54,564.22H523.34M519.54,592.91H523.34M528.93,558.29V594.45M527.03,558.29H530.83M527.03,594.45H530.83M536.42,557.16V590.19M534.52,557.16H538.32M534.52,590.19H538.32M543.9,550.96V590.54M542,550.96H545.8M542,590.54H545.8M551.39,546.92V590.08M549.49,546.92H553.29M549.49,590.08H553.29M558.88,546.15V584.42M556.98,546.15H560.78M556.98,584.42H560.78M566.36,541.73V581.76M564.46,541.73H568.26M564.46,581.76H568.26M573.85,533.45V582.18M571.95,533.45H575.75M571.95,582.18H575.75M581.34,531.91V579.63M579.44,531.91H583.24M579.44,579.63H583.24M588.82,532.3V574.09M586.92,532.3H590.72M586.92,574.09H590.72M596.31,528.62V571.16M594.41,528.62H598.21M594.41,571.16H598.21M603.79,524.53V568.77M601.89,524.53H605.69M601.89,568.77H605.69M611.28,514.73V571.83M609.38,514.73H613.18M609.38,571.83H613.18M618.77,512.15V569.41M616.87,512.15H620.67M616.87,569.41H620.67M626.25,513.29V561.51M624.35,513.29H628.15M624.35,561.51H628.15M633.74,505.15V566.04M631.84,505.15H635.64M631.84,566.04H635.64M641.23,500.01V565.19M639.33,500.01H643.13M639.33,565.19H643.13M648.71,499.42V560.66M646.81,499.42H650.61M646.81,560.66H650.61M656.2,498.28V555.59M654.3,498.28H658.1M654.3,555.59H658.1" fill="none" stroke="#0000ff" stroke-width="1.5"/>
<g fill="#0000ff" stroke="#b4b4ff" stroke-width="0.8">
<circle cx="102.2" cy="754.29" r="3.1"/>
<circle cx="109.69" cy="754.2" r="3.1"/>
<circle cx="117.17" cy="754.65" r="3.1"/>
<circle cx="124.66" cy="753.56" r="3.1"/>
<circle cx="132.15" cy="753.46" r="3.1"/>
<circle cx="139.63" cy="752.34" r="3.1"/>
<circle cx="147.12" cy="750.82" r="3.1"/>
<circle cx="154.61" cy="750.01" r="3.1"/>
<circle cx="162.09" cy="747.91" r="3.1"/>
<circle cx="169.58" cy="746.63" r="3.1"/>
<circle cx="177.06" cy="744.22" r="3.1"/>
<circle cx="184.55" cy="742.07" r="3.1"/>
<circle cx="192.04" cy="740.09" r="3.1"/>
<circle cx="199.52" cy="738.06" r="3.1"/>
<circle cx="207.01" cy="734.53" r="3.1"/>
<circle cx="214.5" cy="731.8" r="3.1"/>
<circle cx="221.98" cy="729.29" r="3.1"/>
<circle cx="229.47" cy="726.52" r="3.1"/>
<circle cx="236.96" cy="722.75" r="3.1"/>
<circle cx="244.44" cy="719.09" r="3.1"/>
<circle cx="251.93" cy="716.25" r="3.1"/>
<circle cx="259.42" cy="711.5" r="3.1"/>
<circle cx="266.9" cy="708.77" r="3.1"/>
<circle cx="274.39" cy="704.31" r="3.1"/>
<circle cx="281.88" cy="700.3" r="3.1"/>
<circle cx="289.36" cy="696.3" r="3.1"/>
<circle cx="296.85" cy="692.51" r="3.1"/>
<circle cx="304.34" cy="689.08" r="3.1"/>
<circle cx="311.82" cy="684.2" r="3.1"/>
<circle cx="319.31" cy="680.41" r="3.1"/>
<circle cx="326.79" cy="676.2" r="3.1"/>
<circle cx="334.28" cy="671.62" r="3.1"/>
<circle cx="341.77" cy="667.58" r="3.1"/>
<circle cx="349.25" cy="662.78" r="3.1"/>
<circle cx="356.74" cy="658.58" r="3.1"/>
<circle cx="364.23" cy="654.6" r="3.1"/>
<circle cx="371.71" cy="651.06" r="3.1"/>
<circle cx="379.2" cy="646.7" r="3.1"/>
<circle cx="386.69" cy="642.55" r="3.1"/>
<circle cx="394.17" cy="638.92" r="3.1"/>
<circle cx="401.66" cy="634.87" r="3.1"/>
<circle cx="409.15" cy="630.85" r="3.1"/>
<circle cx="416.63" cy="627.76" r="3.1"/>
<circle cx="424.12" cy="624.17" r="3.1"/>
<circle cx="431.61" cy="620.22" r="3.1"/>
<circle cx="439.09" cy="617.28" r="3.1"/>
<circle cx="446.58" cy="613.97" r="3.1"/>
<circle cx="454.06" cy="610.91" r="3.1"/>
<circle cx="461.55" cy="607.23" r="3.1"/>
<circle cx="469.04" cy="603.29" r="3.1"/>
<circle cx="476.52" cy="600.25" r="3.1"/>
<circle cx="484.01" cy="595.42" r="3.1"/>
<circle cx="491.5" cy="592.1" r="3.1"/>
<circle cx="498.98" cy="589.05" r="3.1"/>
<circle cx="506.47" cy="584.95" r="3.1"/>
<circle cx="513.96" cy="582.13" r="3.1"/>
<circle cx="521.44" cy="578.56" r="3.1"/>
<circle cx="528.93" cy="576.37" r="3.1"/>
<circle cx="536.42" cy="573.68" r="3.1"/>
<circle cx="543.9" cy="570.75" r="3.1"/>
<circle cx="551.39" cy="568.5" r="3.1"/>
<circle cx="558.88" cy="565.29" r="3.1"/>
<circle cx="566.36" cy="561.75" r="3.1"/>
<circle cx="573.85" cy="557.81" r="3.1"/>
<circle cx="581.34" cy="555.77" r="3.1"/>
<circle cx="588.82" cy="553.19" r="3.1"/>
<circle cx="596.31" cy="549.89" r="3.1"/>
<circle cx="603.79" cy="546.65" r="3.1"/>
<circle cx="611.28" cy="543.28" r="3.1"/>
<circle cx="618.77" cy="540.78" r="3.1"/>
<circle cx="626.25" cy="537.4" r="3.1"/>
<circle cx="633.74" cy="535.59" r="3.1"/>
<circle cx="641.23" cy="532.6" r="3.1"/>
<circle cx="648.71" cy="530.04" r="3.1"/>
<circle cx="656.2" cy="526.93" r="3.1"/>
</g>
<path d="M102.2,643.07V646.11M99.9,643.07H104.5M99.9,646.11H104.5M109.69,639.8V642.57M107.39,639.8H111.99M107.39,642.57H111.99M117.17,636.61V639.36M114.87,636.61H119.47M114.87,639.36H119.47M124.66,631.77V635.56M122.36,631.77H126.96M122.36,635.56H126.96M132.15,628.85V632.44M129.85,628.85H134.45M129.85,632.44H134.45M139.63,624.96V628.53M137.33,624.96H141.93M137.33,628.53H141.93M147.12,621.08V625.2M144.82,621.08H149.42M144.82,625.2H149.42M154.61,617.7V621.38M152.31,617.7H156.91M152.31,621.38H156.91M162.09,614.72V619.01M159.79,614.72H164.39M159.79,619.01H164.39M169.58,610.41V614.77M167.28,610.41H171.88M167.28,614.77H171.88M177.06,607.55V611.28M174.76,607.55H179.36M174.76,611.28H179.36M184.55,604.4V608.28M182.25,604.4H186.85M182.25,608.28H186.85M192.04,601.68V605.71M189.74,601.68H194.34M189.74,605.71H194.34M199.52,597.53V601.59M197.22,597.53H201.82M197.22,601.59H201.82M207.01,594.66V599.29M204.71,594.66H209.31M204.71,599.29H209.31M214.5,591.97V596.25M212.2,591.97H216.8M212.2,596.25H216.8M221.98,589.25V593.87M219.68,589.25H224.28M219.68,593.87H224.28M229.47,586.31V590.61M227.17,586.31H231.77M227.17,590.61H231.77M236.96,582.54V588.09M234.66,582.54H239.26M234.66,588.09H239.26M244.44,579.02V583.91M242.14,579.02H246.74M242.14,583.91H246.74M251.93,575.89V581.15M249.63,575.89H254.23M249.63,581.15H254.23M259.42,572.3V577.98M257.12,572.3H261.72M257.12,577.98H261.72M266.9,569.15V575.6M264.6,569.15H269.2M264.6,575.6H269.2M274.39,566.2V572.03M272.09,566.2H276.69M272.09,572.03H276.69M281.88,561.36V568.33M279.58,561.36H284.18M279.58,568.33H284.18M289.36,558.43V564.84M287.06,558.43H291.66M287.06,564.84H291.66M296.85,555.17V561.85M294.55,555.17H299.15M294.55,561.85H299.15M304.34,551.93V558.82M302.04,551.93H306.64M302.04,558.82H306.64M311.82,549.62V555.63M309.52,549.62H314.12M309.52,555.63H314.12M319.31,546.36V553.32M317.01,546.36H321.61M317.01,553.32H321.61M326.79,543.36V549.84M324.49,543.36H329.09M324.49,549.84H329.09M334.28,540.42V546.57M331.98,540.42H336.58M331.98,546.57H336.58M341.77,537.28V545.24M339.47,537.28H344.07M339.47,545.24H344.07M349.25,535.19V541.85M346.95,535.19H351.55M346.95,541.85H351.55M356.74,532.44V539.83M354.44,532.44H359.04M354.44,539.83H359.04M364.23,529.99V538.02M361.93,529.99H366.53M361.93,538.02H366.53M371.71,527.28V535M369.41,527.28H374.01M369.41,535H374.01M379.2,524.81V532.08M376.9,524.81H381.5M376.9,532.08H381.5M386.69,522.24V530.02M384.39,522.24H388.99M384.39,530.02H388.99M394.17,519.86V527.8M391.87,519.86H396.47M391.87,527.8H396.47M401.66,516.49V525.04M399.36,516.49H403.96M399.36,525.04H403.96M409.15,516.01V523.03M406.85,516.01H411.45M406.85,523.03H411.45M416.63,513.06V521.29M414.33,513.06H418.93M414.33,521.29H418.93M424.12,511.3V518.97M421.82,511.3H426.42M421.82,518.97H426.42M431.61,508.98V516.93M429.31,508.98H433.91M429.31,516.93H433.91M439.09,505.71V515.15M436.79,505.71H441.39M436.79,515.15H441.39M446.58,503.97V512.94M444.28,503.97H448.88M444.28,512.94H448.88M454.06,501.51V510.84M451.76,501.51H456.36M451.76,510.84H456.36M461.55,499.88V509.99M459.25,499.88H463.85M459.25,509.99H463.85M469.04,496.79V507.57M466.74,496.79H471.34M466.74,507.57H471.34M476.52,495.33V504.97M474.22,495.33H478.82M474.22,504.97H478.82M484.01,493.12V503.54M481.71,493.12H486.31M481.71,503.54H486.31M491.5,490.98V501.69M489.2,490.98H493.8M489.2,501.69H493.8M498.98,488.99V500.34M496.68,488.99H501.28M496.68,500.34H501.28M506.47,486.34V498.96M504.17,486.34H508.77M504.17,498.96H508.77M513.96,485.1V497.47M511.66,485.1H516.26M511.66,497.47H516.26M521.44,483.56V496.85M519.14,483.56H523.74M519.14,496.85H523.74M528.93,482.09V495.78M526.63,482.09H531.23M526.63,495.78H531.23M536.42,479.86V496.31M534.12,479.86H538.72M534.12,496.31H538.72M543.9,478.44V494.69M541.6,478.44H546.2M541.6,494.69H546.2M551.39,477.53V495.5M549.09,477.53H553.69M549.09,495.5H553.69M558.88,475.58V494.78M556.58,475.58H561.18M556.58,494.78H561.18M566.36,475.37V491.86M564.06,475.37H568.66M564.06,491.86H568.66M573.85,473.33V492.24M571.55,473.33H576.15M571.55,492.24H576.15M581.34,471V492.97M579.04,471H583.64M579.04,492.97H583.64M588.82,470V492.27M586.52,470H591.12M586.52,492.27H591.12M596.31,470.63V489.41M594.01,470.63H598.61M594.01,489.41H598.61M603.79,470.38V489.83M601.49,470.38H606.09M601.49,489.83H606.09M611.28,468.56V490.98M608.98,468.56H613.58M608.98,490.98H613.58M618.77,468.6V489.24M616.47,468.6H621.07M616.47,489.24H621.07M626.25,467.46V490.09M623.95,467.46H628.55M623.95,490.09H628.55M633.74,467.09V489.24M631.44,467.09H636.04M631.44,489.24H636.04M641.23,465.62V493.23M638.93,465.62H643.53M638.93,493.23H643.53M648.71,466.65V496.1M646.41,466.65H651.01M646.41,496.1H651.01M656.2,467.32V498.65M653.9,467.32H658.5M653.9,498.65H658.5" fill="none" stroke="#ffe0a8" stroke-width="2.8"/>
<path d="M102.2,643.07V646.11M100.3,643.07H104.1M100.3,646.11H104.1M109.69,639.8V642.57M107.79,639.8H111.59M107.79,642.57H111.59M117.17,636.61V639.36M115.27,636.61H119.07M115.27,639.36H119.07M124.66,631.77V635.56M122.76,631.77H126.56M122.76,635.56H126.56M132.15,628.85V632.44M130.25,628.85H134.05M130.25,632.44H134.05M139.63,624.96V628.53M137.73,624.96H141.53M137.73,628.53H141.53M147.12,621.08V625.2M145.22,621.08H149.02M145.22,625.2H149.02M154.61,617.7V621.38M152.71,617.7H156.51M152.71,621.38H156.51M162.09,614.72V619.01M160.19,614.72H163.99M160.19,619.01H163.99M169.58,610.41V614.77M167.68,610.41H171.48M167.68,614.77H171.48M177.06,607.55V611.28M175.16,607.55H178.96M175.16,611.28H178.96M184.55,604.4V608.28M182.65,604.4H186.45M182.65,608.28H186.45M192.04,601.68V605.71M190.14,601.68H193.94M190.14,605.71H193.94M199.52,597.53V601.59M197.62,597.53H201.42M197.62,601.59H201.42M207.01,594.66V599.29M205.11,594.66H208.91M205.11,599.29H208.91M214.5,591.97V596.25M212.6,591.97H216.4M212.6,596.25H216.4M221.98,589.25V593.87M220.08,589.25H223.88M220.08,593.87H223.88M229.47,586.31V590.61M227.57,586.31H231.37M227.57,590.61H231.37M236.96,582.54V588.09M235.06,582.54H238.86M235.06,588.09H238.86M244.44,579.02V583.91M242.54,579.02H246.34M242.54,583.91H246.34M251.93,575.89V581.15M250.03,575.89H253.83M250.03,581.15H253.83M259.42,572.3V577.98M257.52,572.3H261.32M257.52,577.98H261.32M266.9,569.15V575.6M265,569.15H268.8M265,575.6H268.8M274.39,566.2V572.03M272.49,566.2H276.29M272.49,572.03H276.29M281.88,561.36V568.33M279.98,561.36H283.78M279.98,568.33H283.78M289.36,558.43V564.84M287.46,558.43H291.26M287.46,564.84H291.26M296.85,555.17V561.85M294.95,555.17H298.75M294.95,561.85H298.75M304.34,551.93V558.82M302.44,551.93H306.24M302.44,558.82H306.24M311.82,549.62V555.63M309.92,549.62H313.72M309.92,555.63H313.72M319.31,546.36V553.32M317.41,546.36H321.21M317.41,553.32H321.21M326.79,543.36V549.84M324.89,543.36H328.69M324.89,549.84H328.69M334.28,540.42V546.57M332.38,540.42H336.18M332.38,546.57H336.18M341.77,537.28V545.24M339.87,537.28H343.67M339.87,545.24H343.67M349.25,535.19V541.85M347.35,535.19H351.15M347.35,541.85H351.15M356.74,532.44V539.83M354.84,532.44H358.64M354.84,539.83H358.64M364.23,529.99V538.02M362.33,529.99H366.13M362.33,538.02H366.13M371.71,527.28V535M369.81,527.28H373.61M369.81,535H373.61M379.2,524.81V532.08M377.3,524.81H381.1M377.3,532.08H381.1M386.69,522.24V530.02M384.79,522.24H388.59M384.79,530.02H388.59M394.17,519.86V527.8M392.27,519.86H396.07M392.27,527.8H396.07M401.66,516.49V525.04M399.76,516.49H403.56M399.76,525.04H403.56M409.15,516.01V523.03M407.25,516.01H411.05M407.25,523.03H411.05M416.63,513.06V521.29M414.73,513.06H418.53M414.73,521.29H418.53M424.12,511.3V518.97M422.22,511.3H426.02M422.22,518.97H426.02M431.61,508.98V516.93M429.71,508.98H433.51M429.71,516.93H433.51M439.09,505.71V515.15M437.19,505.71H440.99M437.19,515.15H440.99M446.58,503.97V512.94M444.68,503.97H448.48M444.68,512.94H448.48M454.06,501.51V510.84M452.16,501.51H455.96M452.16,510.84H455.96M461.55,499.88V509.99M459.65,499.88H463.45M459.65,509.99H463.45M469.04,496.79V507.57M467.14,496.79H470.94M467.14,507.57H470.94M476.52,495.33V504.97M474.62,495.33H478.42M474.62,504.97H478.42M484.01,493.12V503.54M482.11,493.12H485.91M482.11,503.54H485.91M491.5,490.98V501.69M489.6,490.98H493.4M489.6,501.69H493.4M498.98,488.99V500.34M497.08,488.99H500.88M497.08,500.34H500.88M506.47,486.34V498.96M504.57,486.34H508.37M504.57,498.96H508.37M513.96,485.1V497.47M512.06,485.1H515.86M512.06,497.47H515.86M521.44,483.56V496.85M519.54,483.56H523.34M519.54,496.85H523.34M528.93,482.09V495.78M527.03,482.09H530.83M527.03,495.78H530.83M536.42,479.86V496.31M534.52,479.86H538.32M534.52,496.31H538.32M543.9,478.44V494.69M542,478.44H545.8M542,494.69H545.8M551.39,477.53V495.5M549.49,477.53H553.29M549.49,495.5H553.29M558.88,475.58V494.78M556.98,475.58H560.78M556.98,494.78H560.78M566.36,475.37V491.86M564.46,475.37H568.26M564.46,491.86H568.26M573.85,473.33V492.24M571.95,473.33H575.75M571.95,492.24H575.75M581.34,471V492.97M579.44,471H583.24M579.44,492.97H583.24M588.82,470V492.27M586.92,470H590.72M586.92,492.27H590.72M596.31,470.63V489.41M594.41,470.63H598.21M594.41,489.41H598.21M603.79,470.38V489.83M601.89,470.38H605.69M601.89,489.83H605.69M611.28,468.56V490.98M609.38,468.56H613.18M609.38,490.98H613.18M618.77,468.6V489.24M616.87,468.6H620.67M616.87,489.24H620.67M626.25,467.46V490.09M624.35,467.46H628.15M624.35,490.09H628.15M633.74,467.09V489.24M631.84,467.09H635.64M631.84,489.24H635.64M641.23,465.62V493.23M639.33,465.62H643.13M639.33,493.23H643.13M648.71,466.65V496.1M646.81,466.65H650.61M646.81,496.1H650.61M656.2,467.32V498.65M654.3,467.32H658.1M654.3,498.65H658.1" fill="none" stroke="#ffa500" stroke-width="1.5"/>
<g fill="#ffa500" stroke="#ffe0a8" stroke-width="0.8">
<circle cx="102.2" cy="644.59" r="3.4"/>
<circle cx="109.69" cy="641.19" r="3.4"/>
<circle cx="117.17" cy="637.99" r="3.4"/>
<circle cx="124.66" cy="633.67" r="3.4"/>
<circle cx="132.15" cy="630.65" r="3.4"/>
<circle cx="139.63" cy="626.75" r="3.4"/>
<circle cx="147.12" cy="623.14" r="3.4"/>
<circle cx="154.61" cy="619.54" r="3.4"/>
<circle cx="162.09" cy="616.87" r="3.4"/>
<circle cx="169.58" cy="612.59" r="3.4"/>
<circle cx="177.06" cy="609.41" r="3.4"/>
<circle cx="184.55" cy="606.34" r="3.4"/>
<circle cx="192.04" cy="603.69" r="3.4"/>
<circle cx="199.52" cy="599.56" r="3.4"/>
<circle cx="207.01" cy="596.98" r="3.4"/>
<circle cx="214.5" cy="594.11" r="3.4"/>
<circle cx="221.98" cy="591.56" r="3.4"/>
<circle cx="229.47" cy="588.46" r="3.4"/>
<circle cx="236.96" cy="585.32" r="3.4"/>
<circle cx="244.44" cy="581.46" r="3.4"/>
<circle cx="251.93" cy="578.52" r="3.4"/>
<circle cx="259.42" cy="575.14" r="3.4"/>
<circle cx="266.9" cy="572.37" r="3.4"/>
<circle cx="274.39" cy="569.11" r="3.4"/>
<circle cx="281.88" cy="564.85" r="3.4"/>
<circle cx="289.36" cy="561.63" r="3.4"/>
<circle cx="296.85" cy="558.51" r="3.4"/>
<circle cx="304.34" cy="555.37" r="3.4"/>
<circle cx="311.82" cy="552.62" r="3.4"/>
<circle cx="319.31" cy="549.84" r="3.4"/>
<circle cx="326.79" cy="546.6" r="3.4"/>
<circle cx="334.28" cy="543.5" r="3.4"/>
<circle cx="341.77" cy="541.26" r="3.4"/>
<circle cx="349.25" cy="538.52" r="3.4"/>
<circle cx="356.74" cy="536.13" r="3.4"/>
<circle cx="364.23" cy="534" r="3.4"/>
<circle cx="371.71" cy="531.14" r="3.4"/>
<circle cx="379.2" cy="528.44" r="3.4"/>
<circle cx="386.69" cy="526.13" r="3.4"/>
<circle cx="394.17" cy="523.83" r="3.4"/>
<circle cx="401.66" cy="520.77" r="3.4"/>
<circle cx="409.15" cy="519.52" r="3.4"/>
<circle cx="416.63" cy="517.17" r="3.4"/>
<circle cx="424.12" cy="515.14" r="3.4"/>
<circle cx="431.61" cy="512.95" r="3.4"/>
<circle cx="439.09" cy="510.43" r="3.4"/>
<circle cx="446.58" cy="508.45" r="3.4"/>
<circle cx="454.06" cy="506.17" r="3.4"/>
<circle cx="461.55" cy="504.93" r="3.4"/>
<circle cx="469.04" cy="502.18" r="3.4"/>
<circle cx="476.52" cy="500.15" r="3.4"/>
<circle cx="484.01" cy="498.33" r="3.4"/>
<circle cx="491.5" cy="496.34" r="3.4"/>
<circle cx="498.98" cy="494.67" r="3.4"/>
<circle cx="506.47" cy="492.65" r="3.4"/>
<circle cx="513.96" cy="491.28" r="3.4"/>
<circle cx="521.44" cy="490.2" r="3.4"/>
<circle cx="528.93" cy="488.93" r="3.4"/>
<circle cx="536.42" cy="488.09" r="3.4"/>
<circle cx="543.9" cy="486.56" r="3.4"/>
<circle cx="551.39" cy="486.51" r="3.4"/>
<circle cx="558.88" cy="485.18" r="3.4"/>
<circle cx="566.36" cy="483.62" r="3.4"/>
<circle cx="573.85" cy="482.78" r="3.4"/>
<circle cx="581.34" cy="481.98" r="3.4"/>
<circle cx="588.82" cy="481.13" r="3.4"/>
<circle cx="596.31" cy="480.02" r="3.4"/>
<circle cx="603.79" cy="480.11" r="3.4"/>
<circle cx="611.28" cy="479.77" r="3.4"/>
<circle cx="618.77" cy="478.92" r="3.4"/>
<circle cx="626.25" cy="478.77" r="3.4"/>
<circle cx="633.74" cy="478.17" r="3.4"/>
<circle cx="641.23" cy="479.42" r="3.4"/>
<circle cx="648.71" cy="481.38" r="3.4"/>
<circle cx="656.2" cy="482.99" r="3.4"/>
</g>
<path d="M102.2,564.16V568.64M99.9,564.16H104.5M99.9,568.64H104.5M109.69,562.77V568.2M107.39,562.77H111.99M107.39,568.2H111.99M117.17,562.44V567.91M114.87,562.44H119.47M114.87,567.91H119.47M124.66,559.9V564.65M122.36,559.9H126.96M122.36,564.65H126.96M132.15,556.29V562.35M129.85,556.29H134.45M129.85,562.35H134.45M139.63,548.33V554.65M137.33,548.33H141.93M137.33,554.65H141.93M147.12,545.91V551.09M144.82,545.91H149.42M144.82,551.09H149.42M154.61,544.74V551.28M152.31,544.74H156.91M152.31,551.28H156.91M162.09,542.66V548.35M159.79,542.66H164.39M159.79,548.35H164.39M169.58,539.93V545.88M167.28,539.93H171.88M167.28,545.88H171.88M177.06,537.22V544.2M174.76,537.22H179.36M174.76,544.2H179.36M184.55,533.38V540.19M182.25,533.38H186.85M182.25,540.19H186.85M192.04,531.89V537.55M189.74,531.89H194.34M189.74,537.55H194.34M199.52,528.59V534.87M197.22,528.59H201.82M197.22,534.87H201.82M207.01,525.32V531.87M204.71,525.32H209.31M204.71,531.87H209.31M214.5,522.39V528.69M212.2,522.39H216.8M212.2,528.69H216.8M221.98,520.47V526.59M219.68,520.47H224.28M219.68,526.59H224.28M229.47,518.75V525.21M227.17,518.75H231.77M227.17,525.21H231.77M236.96,515.86V523.27M234.66,515.86H239.26M234.66,523.27H239.26M244.44,512.14V518.2M242.14,512.14H246.74M242.14,518.2H246.74M251.93,509.98V517.34M249.63,509.98H254.23M249.63,517.34H254.23M259.42,508.32V515.59M257.12,508.32H261.72M257.12,515.59H261.72M266.9,507.08V513.56M264.6,507.08H269.2M264.6,513.56H269.2M274.39,503V510.34M272.09,503H276.69M272.09,510.34H276.69M281.88,499.22V507.4M279.58,499.22H284.18M279.58,507.4H284.18M289.36,497.4V505.49M287.06,497.4H291.66M287.06,505.49H291.66M296.85,496.71V503.86M294.55,496.71H299.15M294.55,503.86H299.15M304.34,493.09V502.68M302.04,493.09H306.64M302.04,502.68H306.64M311.82,491.63V500.91M309.52,491.63H314.12M309.52,500.91H314.12M319.31,489.31V499.24M317.01,489.31H321.61M317.01,499.24H321.61M326.79,488.88V496.7M324.49,488.88H329.09M324.49,496.7H329.09M334.28,488.22V496.61M331.98,488.22H336.58M331.98,496.61H336.58M341.77,486.98V494.9M339.47,486.98H344.07M339.47,494.9H344.07M349.25,484.11V494.24M346.95,484.11H351.55M346.95,494.24H351.55M356.74,482.97V491.82M354.44,482.97H359.04M354.44,491.82H359.04M364.23,481.31V489.91M361.93,481.31H366.53M361.93,489.91H366.53M371.71,479V488.61M369.41,479H374.01M369.41,488.61H374.01M379.2,476.28V487.52M376.9,476.28H381.5M376.9,487.52H381.5M386.69,476.25V487.37M384.39,476.25H388.99M384.39,487.37H388.99M394.17,476.02V485.56M391.87,476.02H396.47M391.87,485.56H396.47M401.66,474.1V483.43M399.36,474.1H403.96M399.36,483.43H403.96M409.15,472.41V484.32M406.85,472.41H411.45M406.85,484.32H411.45M416.63,472.28V483.22M414.33,472.28H418.93M414.33,483.22H418.93M424.12,471.41V482.93M421.82,471.41H426.42M421.82,482.93H426.42M431.61,471.68V481.34M429.31,471.68H433.91M429.31,481.34H433.91M439.09,468.24V477.91M436.79,468.24H441.39M436.79,477.91H441.39M446.58,466.73V478.67M444.28,466.73H448.88M444.28,478.67H448.88M454.06,467.11V478.29M451.76,467.11H456.36M451.76,478.29H456.36M461.55,467.56V477.65M459.25,467.56H463.85M459.25,477.65H463.85M469.04,464.49V477.76M466.74,464.49H471.34M466.74,477.76H471.34M476.52,465.45V477.81M474.22,465.45H478.82M474.22,477.81H478.82M484.01,464.21V477.36M481.71,464.21H486.31M481.71,477.36H486.31M491.5,466.8V477.73M489.2,466.8H493.8M489.2,477.73H493.8M498.98,462.56V476.86M496.68,462.56H501.28M496.68,476.86H501.28M506.47,465.49V477.11M504.17,465.49H508.77M504.17,477.11H508.77M513.96,463.64V478.92M511.66,463.64H516.26M511.66,478.92H516.26M521.44,463.69V477.71M519.14,463.69H523.74M519.14,477.71H523.74M528.93,463.77V477.71M526.63,463.77H531.23M526.63,477.71H531.23M536.42,464.07V479.39M534.12,464.07H538.72M534.12,479.39H538.72M543.9,463.65V481.15M541.6,463.65H546.2M541.6,481.15H546.2M551.39,466.61V481.45M549.09,466.61H553.69M549.09,481.45H553.69M558.88,465.1V479.65M556.58,465.1H561.18M556.58,479.65H561.18M566.36,465.77V482.72M564.06,465.77H568.66M564.06,482.72H568.66M573.85,465.29V481.18M571.55,465.29H576.15M571.55,481.18H576.15M581.34,468.39V483.99M579.04,468.39H583.64M579.04,483.99H583.64M588.82,473.78V490.05M586.52,473.78H591.12M586.52,490.05H591.12M596.31,475.34V491.38M594.01,475.34H598.61M594.01,491.38H598.61M603.79,477.55V494.83M601.49,477.55H606.09M601.49,494.83H606.09M611.28,478.29V496.6M608.98,478.29H613.58M608.98,496.6H613.58M618.77,477.12V495.8M616.47,477.12H621.07M616.47,495.8H621.07M626.25,479.42V501.56M623.95,479.42H628.55M623.95,501.56H628.55M633.74,484.87V504.93M631.44,484.87H636.04M631.44,504.93H636.04M641.23,487.89V510.16M638.93,487.89H643.53M638.93,510.16H643.53M648.71,492.05V512.95M646.41,492.05H651.01M646.41,512.95H651.01M656.2,504.55V527.45M653.9,504.55H658.5M653.9,527.45H658.5" fill="none" stroke="#ffb4ff" stroke-width="3.3"/>
<path d="M102.2,564.16V568.64M100.3,564.16H104.1M100.3,568.64H104.1M109.69,562.77V568.2M107.79,562.77H111.59M107.79,568.2H111.59M117.17,562.44V567.91M115.27,562.44H119.07M115.27,567.91H119.07M124.66,559.9V564.65M122.76,559.9H126.56M122.76,564.65H126.56M132.15,556.29V562.35M130.25,556.29H134.05M130.25,562.35H134.05M139.63,548.33V554.65M137.73,548.33H141.53M137.73,554.65H141.53M147.12,545.91V551.09M145.22,545.91H149.02M145.22,551.09H149.02M154.61,544.74V551.28M152.71,544.74H156.51M152.71,551.28H156.51M162.09,542.66V548.35M160.19,542.66H163.99M160.19,548.35H163.99M169.58,539.93V545.88M167.68,539.93H171.48M167.68,545.88H171.48M177.06,537.22V544.2M175.16,537.22H178.96M175.16,544.2H178.96M184.55,533.38V540.19M182.65,533.38H186.45M182.65,540.19H186.45M192.04,531.89V537.55M190.14,531.89H193.94M190.14,537.55H193.94M199.52,528.59V534.87M197.62,528.59H201.42M197.62,534.87H201.42M207.01,525.32V531.87M205.11,525.32H208.91M205.11,531.87H208.91M214.5,522.39V528.69M212.6,522.39H216.4M212.6,528.69H216.4M221.98,520.47V526.59M220.08,520.47H223.88M220.08,526.59H223.88M229.47,518.75V525.21M227.57,518.75H231.37M227.57,525.21H231.37M236.96,515.86V523.27M235.06,515.86H238.86M235.06,523.27H238.86M244.44,512.14V518.2M242.54,512.14H246.34M242.54,518.2H246.34M251.93,509.98V517.34M250.03,509.98H253.83M250.03,517.34H253.83M259.42,508.32V515.59M257.52,508.32H261.32M257.52,515.59H261.32M266.9,507.08V513.56M265,507.08H268.8M265,513.56H268.8M274.39,503V510.34M272.49,503H276.29M272.49,510.34H276.29M281.88,499.22V507.4M279.98,499.22H283.78M279.98,507.4H283.78M289.36,497.4V505.49M287.46,497.4H291.26M287.46,505.49H291.26M296.85,496.71V503.86M294.95,496.71H298.75M294.95,503.86H298.75M304.34,493.09V502.68M302.44,493.09H306.24M302.44,502.68H306.24M311.82,491.63V500.91M309.92,491.63H313.72M309.92,500.91H313.72M319.31,489.31V499.24M317.41,489.31H321.21M317.41,499.24H321.21M326.79,488.88V496.7M324.89,488.88H328.69M324.89,496.7H328.69M334.28,488.22V496.61M332.38,488.22H336.18M332.38,496.61H336.18M341.77,486.98V494.9M339.87,486.98H343.67M339.87,494.9H343.67M349.25,484.11V494.24M347.35,484.11H351.15M347.35,494.24H351.15M356.74,482.97V491.82M354.84,482.97H358.64M354.84,491.82H358.64M364.23,481.31V489.91M362.33,481.31H366.13M362.33,489.91H366.13M371.71,479V488.61M369.81,479H373.61M369.81,488.61H373.61M379.2,476.28V487.52M377.3,476.28H381.1M377.3,487.52H381.1M386.69,476.25V487.37M384.79,476.25H388.59M384.79,487.37H388.59M394.17,476.02V485.56M392.27,476.02H396.07M392.27,485.56H396.07M401.66,474.1V483.43M399.76,474.1H403.56M399.76,483.43H403.56M409.15,472.41V484.32M407.25,472.41H411.05M407.25,484.32H411.05M416.63,472.28V483.22M414.73,472.28H418.53M414.73,483.22H418.53M424.12,471.41V482.93M422.22,471.41H426.02M422.22,482.93H426.02M431.61,471.68V481.34M429.71,471.68H433.51M429.71,481.34H433.51M439.09,468.24V477.91M437.19,468.24H440.99M437.19,477.91H440.99M446.58,466.73V478.67M444.68,466.73H448.48M444.68,478.67H448.48M454.06,467.11V478.29M452.16,467.11H455.96M452.16,478.29H455.96M461.55,467.56V477.65M459.65,467.56H463.45M459.65,477.65H463.45M469.04,464.49V477.76M467.14,464.49H470.94M467.14,477.76H470.94M476.52,465.45V477.81M474.62,465.45H478.42M474.62,477.81H478.42M484.01,464.21V477.36M482.11,464.21H485.91M482.11,477.36H485.91M491.5,466.8V477.73M489.6,466.8H493.4M489.6,477.73H493.4M498.98,462.56V476.86M497.08,462.56H500.88M497.08,476.86H500.88M506.47,465.49V477.11M504.57,465.49H508.37M504.57,477.11H508.37M513.96,463.64V478.92M512.06,463.64H515.86M512.06,478.92H515.86M521.44,463.69V477.71M519.54,463.69H523.34M519.54,477.71H523.34M528.93,463.77V477.71M527.03,463.77H530.83M527.03,477.71H530.83M536.42,464.07V479.39M534.52,464.07H538.32M534.52,479.39H538.32M543.9,463.65V481.15M542,463.65H545.8M542,481.15H545.8M551.39,466.61V481.45M549.49,466.61H553.29M549.49,481.45H553.29M558.88,465.1V479.65M556.98,465.1H560.78M556.98,479.65H560.78M566.36,465.77V482.72M564.46,465.77H568.26M564.46,482.72H568.26M573.85,465.29V481.18M571.95,465.29H575.75M571.95,481.18H575.75M581.34,468.39V483.99M579.44,468.39H583.24M579.44,483.99H583.24M588.82,473.78V490.05M586.92,473.78H590.72M586.92,490.05H590.72M596.31,475.34V491.38M594.41,475.34H598.21M594.41,491.38H598.21M603.79,477.55V494.83M601.89,477.55H605.69M601.89,494.83H605.69M611.28,478.29V496.6M609.38,478.29H613.18M609.38,496.6H613.18M618.77,477.12V495.8M616.87,477.12H620.67M616.87,495.8H620.67M626.25,479.42V501.56M624.35,479.42H628.15M624.35,501.56H628.15M633.74,484.87V504.93M631.84,484.87H635.64M631.84,504.93H635.64M641.23,487.89V510.16M639.33,487.89H643.13M639.33,510.16H643.13M648.71,492.05V512.95M646.81,492.05H650.61M646.81,512.95H650.61M656.2,504.55V527.45M654.3,504.55H658.1M654.3,527.45H658.1" fill="none" stroke="#ff00ff" stroke-width="1.5"/>
<g fill="#ff00ff" stroke="#ffb4ff" stroke-width="0.8">
<circle cx="102.2" cy="566.4" r="3.8"/>
<circle cx="109.69" cy="565.49" r="3.8"/>
<circle cx="117.17" cy="565.17" r="3.8"/>
<circle cx="124.66" cy="562.28" r="3.8"/>
<circle cx="132.15" cy="559.32" r="3.8"/>
<circle cx="139.63" cy="551.49" r="3.8"/>
<circle cx="147.12" cy="548.5" r="3.8"/>
<circle cx="154.61" cy="548.01" r="3.8"/>
<circle cx="162.09" cy="545.5" r="3.8"/>
<circle cx="169.58" cy="542.91" r="3.8"/>
<circle cx="177.06" cy="540.71" r="3.8"/>
<circle cx="184.55" cy="536.79" r="3.8"/>
<circle cx="192.04" cy="534.72" r="3.8"/>
<circle cx="199.52" cy="531.73" r="3.8"/>
<circle cx="207.01" cy="528.6" r="3.8"/>
<circle cx="214.5" cy="525.54" r="3.8"/>
<circle cx="221.98" cy="523.53" r="3.8"/>
<circle cx="229.47" cy="521.98" r="3.8"/>
<circle cx="236.96" cy="519.57" r="3.8"/>
<circle cx="244.44" cy="515.17" r="3.8"/>
<circle cx="251.93" cy="513.66" r="3.8"/>
<circle cx="259.42" cy="511.95" r="3.8"/>
<circle cx="266.9" cy="510.32" r="3.8"/>
<circle cx="274.39" cy="506.67" r="3.8"/>
<circle cx="281.88" cy="503.31" r="3.8"/>
<circle cx="289.36" cy="501.44" r="3.8"/>
<circle cx="296.85" cy="500.28" r="3.8"/>
<circle cx="304.34" cy="497.88" r="3.8"/>
<circle cx="311.82" cy="496.27" r="3.8"/>
<circle cx="319.31" cy="494.28" r="3.8"/>
<circle cx="326.79" cy="492.79" r="3.8"/>
<circle cx="334.28" cy="492.41" r="3.8"/>
<circle cx="341.77" cy="490.94" r="3.8"/>
<circle cx="349.25" cy="489.18" r="3.8"/>
<circle cx="356.74" cy="487.4" r="3.8"/>
<circle cx="364.23" cy="485.61" r="3.8"/>
<circle cx="371.71" cy="483.8" r="3.8"/>
<circle cx="379.2" cy="481.9" r="3.8"/>
<circle cx="386.69" cy="481.81" r="3.8"/>
<circle cx="394.17" cy="480.79" r="3.8"/>
<circle cx="401.66" cy="478.77" r="3.8"/>
<circle cx="409.15" cy="478.36" r="3.8"/>
<circle cx="416.63" cy="477.75" r="3.8"/>
<circle cx="424.12" cy="477.17" r="3.8"/>
<circle cx="431.61" cy="476.51" r="3.8"/>
<circle cx="439.09" cy="473.08" r="3.8"/>
<circle cx="446.58" cy="472.7" r="3.8"/>
<circle cx="454.06" cy="472.7" r="3.8"/>
<circle cx="461.55" cy="472.6" r="3.8"/>
<circle cx="469.04" cy="471.13" r="3.8"/>
<circle cx="476.52" cy="471.63" r="3.8"/>
<circle cx="484.01" cy="470.78" r="3.8"/>
<circle cx="491.5" cy="472.26" r="3.8"/>
<circle cx="498.98" cy="469.71" r="3.8"/>
<circle cx="506.47" cy="471.3" r="3.8"/>
<circle cx="513.96" cy="471.28" r="3.8"/>
<circle cx="521.44" cy="470.7" r="3.8"/>
<circle cx="528.93" cy="470.74" r="3.8"/>
<circle cx="536.42" cy="471.73" r="3.8"/>
<circle cx="543.9" cy="472.4" r="3.8"/>
<circle cx="551.39" cy="474.03" r="3.8"/>
<circle cx="558.88" cy="472.37" r="3.8"/>
<circle cx="566.36" cy="474.24" r="3.8"/>
<circle cx="573.85" cy="473.23" r="3.8"/>
<circle cx="581.34" cy="476.19" r="3.8"/>
<circle cx="588.82" cy="481.91" r="3.8"/>
<circle cx="596.31" cy="483.36" r="3.8"/>
<circle cx="603.79" cy="486.19" r="3.8"/>
<circle cx="611.28" cy="487.44" r="3.8"/>
<circle cx="618.77" cy="486.46" r="3.8"/>
<circle cx="626.25" cy="490.49" r="3.8"/>
<circle cx="633.74" cy="494.9" r="3.8"/>
<circle cx="641.23" cy="499.02" r="3.8"/>
<circle cx="648.71" cy="502.5" r="3.8"/>
<circle cx="656.2" cy="516" r="3.8"/>
</g>
<path d="M102.2,538.56V558.24M99.9,538.56H104.5M99.9,558.24H104.5M109.69,532.58V554.05M107.39,532.58H111.99M107.39,554.05H111.99M117.17,531.66V551.69M114.87,531.66H119.47M114.87,551.69H119.47M124.66,526.34V551.64M122.36,526.34H126.96M122.36,551.64H126.96M132.15,525.79V550.02M129.85,525.79H134.45M129.85,550.02H134.45M139.63,522.27V544.11M137.33,522.27H141.93M137.33,544.11H141.93M147.12,518.24V542.35M144.82,518.24H149.42M144.82,542.35H149.42M154.61,515.26V542.97M152.31,515.26H156.91M152.31,542.97H156.91M162.09,516.66V538.47M159.79,516.66H164.39M159.79,538.47H164.39M169.58,511.34V538.67M167.28,511.34H171.88M167.28,538.67H171.88M177.06,510.96V535.61M174.76,510.96H179.36M174.76,535.61H179.36M184.55,508.32V533.66M182.25,508.32H186.85M182.25,533.66H186.85M192.04,504.93V533.1M189.74,504.93H194.34M189.74,533.1H194.34M199.52,503.14V528.13M197.22,503.14H201.82M197.22,528.13H201.82M207.01,500.05V526.15M204.71,500.05H209.31M204.71,526.15H209.31M214.5,499.99V527.97M212.2,499.99H216.8M212.2,527.97H216.8M221.98,496.72V527.54M219.68,496.72H224.28M219.68,527.54H224.28M229.47,495.46V521.52M227.17,495.46H231.77M227.17,521.52H231.77M236.96,492.18V522.73M234.66,492.18H239.26M234.66,522.73H239.26M244.44,490.25V520.22M242.14,490.25H246.74M242.14,520.22H246.74M251.93,486.76V516.58M249.63,486.76H254.23M249.63,516.58H254.23M259.42,486.49V514.74M257.12,486.49H261.72M257.12,514.74H261.72M266.9,484.55V512.72M264.6,484.55H269.2M264.6,512.72H269.2M274.39,484.81V510.75M272.09,484.81H276.69M272.09,510.75H276.69M281.88,485.73V512.74M279.58,485.73H284.18M279.58,512.74H284.18M289.36,484.55V511.4M287.06,484.55H291.66M287.06,511.4H291.66M296.85,480.49V513.99M294.55,480.49H299.15M294.55,513.99H299.15M304.34,481.31V510.66M302.04,481.31H306.64M302.04,510.66H306.64M311.82,481.11V509.95M309.52,481.11H314.12M309.52,509.95H314.12M319.31,479.06V507.39M317.01,479.06H321.61M317.01,507.39H321.61M326.79,475.92V511.91M324.49,475.92H329.09M324.49,511.91H329.09M334.28,473.48V510.08M331.98,473.48H336.58M331.98,510.08H336.58M341.77,473.52V508.44M339.47,473.52H344.07M339.47,508.44H344.07M349.25,473.81V505.13M346.95,473.81H351.55M346.95,505.13H351.55M356.74,473.41V504.59M354.44,473.41H359.04M354.44,504.59H359.04M364.23,473.05V505.02M361.93,473.05H366.53M361.93,505.02H366.53M371.71,472.43V506.4M369.41,472.43H374.01M369.41,506.4H374.01M379.2,472.49V503.6M376.9,472.49H381.5M376.9,503.6H381.5M386.69,471.41V505.79M384.39,471.41H388.99M384.39,505.79H388.99M394.17,472.25V504.99M391.87,472.25H396.47M391.87,504.99H396.47M401.66,468.74V509.2M399.36,468.74H403.96M399.36,509.2H403.96M409.15,468.17V509.07M406.85,468.17H411.45M406.85,509.07H411.45M416.63,470.59V507.41M414.33,470.59H418.93M414.33,507.41H418.93M424.12,471.87V506.13M421.82,471.87H426.42M421.82,506.13H426.42M431.61,467.37V510.59M429.31,467.37H433.91M429.31,510.59H433.91M439.09,470.36V506.88M436.79,470.36H441.39M436.79,506.88H441.39M446.58,470.08V507.92M444.28,470.08H448.88M444.28,507.92H448.88M454.06,471.84V506.16M451.76,471.84H456.36M451.76,506.16H456.36M461.55,469.3V509M459.25,469.3H463.85M459.25,509H463.85M469.04,470.73V512.39M466.74,470.73H471.34M466.74,512.39H471.34M476.52,471.61V514.55M474.22,471.61H478.82M474.22,514.55H478.82M484.01,478.11V518.01M481.71,478.11H486.31M481.71,518.01H486.31M491.5,473.22V518.04M489.2,473.22H493.8M489.2,518.04H493.8M498.98,478.13V517.02M496.68,478.13H501.28M496.68,517.02H501.28M506.47,475.69V519.01M504.17,475.69H508.77M504.17,519.01H508.77M513.96,479.6V521.29M511.66,479.6H516.26M511.66,521.29H516.26M521.44,480.95V527.92M519.14,480.95H523.74M519.14,527.92H523.74M528.93,483.78V526.29M526.63,483.78H531.23M526.63,526.29H531.23M536.42,484.47V527.45M534.12,484.47H538.72M534.12,527.45H538.72M543.9,485.67V533.7M541.6,485.67H546.2M541.6,533.7H546.2M551.39,489.3V537.03M549.09,489.3H553.69M549.09,537.03H553.69M558.88,490.14V544.26M556.58,490.14H561.18M556.58,544.26H561.18M566.36,487.85V541.94M564.06,487.85H568.66M564.06,541.94H568.66M573.85,491.53V550.11M571.55,491.53H576.15M571.55,550.11H576.15M581.34,494.6V552.56M579.04,494.6H583.64M579.04,552.56H583.64M588.82,499.12V559.09M586.52,499.12H591.12M586.52,559.09H591.12M596.31,499.02V563.2M594.01,499.02H598.61M594.01,563.2H598.61M603.79,506.62V563.59M601.49,506.62H606.09M601.49,563.59H606.09M611.28,511.87V568.95M608.98,511.87H613.58M608.98,568.95H613.58M618.77,507.37V577.83M616.47,507.37H621.07M616.47,577.83H621.07M626.25,517.74V573.94M623.95,517.74H628.55M623.95,573.94H628.55M633.74,515.13V583.55M631.44,515.13H636.04M631.44,583.55H636.04M641.23,521.6V589.81M638.93,521.6H643.53M638.93,589.81H643.53M648.71,534.19V591.76M646.41,534.19H651.01M646.41,591.76H651.01M656.2,533.98V608.82M653.9,533.98H658.5M653.9,608.82H658.5" fill="none" stroke="#b4ddb4" stroke-width="3.3"/>
<path d="M102.2,538.56V558.24M100.3,538.56H104.1M100.3,558.24H104.1M109.69,532.58V554.05M107.79,532.58H111.59M107.79,554.05H111.59M117.17,531.66V551.69M115.27,531.66H119.07M115.27,551.69H119.07M124.66,526.34V551.64M122.76,526.34H126.56M122.76,551.64H126.56M132.15,525.79V550.02M130.25,525.79H134.05M130.25,550.02H134.05M139.63,522.27V544.11M137.73,522.27H141.53M137.73,544.11H141.53M147.12,518.24V542.35M145.22,518.24H149.02M145.22,542.35H149.02M154.61,515.26V542.97M152.71,515.26H156.51M152.71,542.97H156.51M162.09,516.66V538.47M160.19,516.66H163.99M160.19,538.47H163.99M169.58,511.34V538.67M167.68,511.34H171.48M167.68,538.67H171.48M177.06,510.96V535.61M175.16,510.96H178.96M175.16,535.61H178.96M184.55,508.32V533.66M182.65,508.32H186.45M182.65,533.66H186.45M192.04,504.93V533.1M190.14,504.93H193.94M190.14,533.1H193.94M199.52,503.14V528.13M197.62,503.14H201.42M197.62,528.13H201.42M207.01,500.05V526.15M205.11,500.05H208.91M205.11,526.15H208.91M214.5,499.99V527.97M212.6,499.99H216.4M212.6,527.97H216.4M221.98,496.72V527.54M220.08,496.72H223.88M220.08,527.54H223.88M229.47,495.46V521.52M227.57,495.46H231.37M227.57,521.52H231.37M236.96,492.18V522.73M235.06,492.18H238.86M235.06,522.73H238.86M244.44,490.25V520.22M242.54,490.25H246.34M242.54,520.22H246.34M251.93,486.76V516.58M250.03,486.76H253.83M250.03,516.58H253.83M259.42,486.49V514.74M257.52,486.49H261.32M257.52,514.74H261.32M266.9,484.55V512.72M265,484.55H268.8M265,512.72H268.8M274.39,484.81V510.75M272.49,484.81H276.29M272.49,510.75H276.29M281.88,485.73V512.74M279.98,485.73H283.78M279.98,512.74H283.78M289.36,484.55V511.4M287.46,484.55H291.26M287.46,511.4H291.26M296.85,480.49V513.99M294.95,480.49H298.75M294.95,513.99H298.75M304.34,481.31V510.66M302.44,481.31H306.24M302.44,510.66H306.24M311.82,481.11V509.95M309.92,481.11H313.72M309.92,509.95H313.72M319.31,479.06V507.39M317.41,479.06H321.21M317.41,507.39H321.21M326.79,475.92V511.91M324.89,475.92H328.69M324.89,511.91H328.69M334.28,473.48V510.08M332.38,473.48H336.18M332.38,510.08H336.18M341.77,473.52V508.44M339.87,473.52H343.67M339.87,508.44H343.67M349.25,473.81V505.13M347.35,473.81H351.15M347.35,505.13H351.15M356.74,473.41V504.59M354.84,473.41H358.64M354.84,504.59H358.64M364.23,473.05V505.02M362.33,473.05H366.13M362.33,505.02H366.13M371.71,472.43V506.4M369.81,472.43H373.61M369.81,506.4H373.61M379.2,472.49V503.6M377.3,472.49H381.1M377.3,503.6H381.1M386.69,471.41V505.79M384.79,471.41H388.59M384.79,505.79H388.59M394.17,472.25V504.99M392.27,472.25H396.07M392.27,504.99H396.07M401.66,468.74V509.2M399.76,468.74H403.56M399.76,509.2H403.56M409.15,468.17V509.07M407.25,468.17H411.05M407.25,509.07H411.05M416.63,470.59V507.41M414.73,470.59H418.53M414.73,507.41H418.53M424.12,471.87V506.13M422.22,471.87H426.02M422.22,506.13H426.02M431.61,467.37V510.59M429.71,467.37H433.51M429.71,510.59H433.51M439.09,470.36V506.88M437.19,470.36H440.99M437.19,506.88H440.99M446.58,470.08V507.92M444.68,470.08H448.48M444.68,507.92H448.48M454.06,471.84V506.16M452.16,471.84H455.96M452.16,506.16H455.96M461.55,469.3V509M459.65,469.3H463.45M459.65,509H463.45M469.04,470.73V512.39M467.14,470.73H470.94M467.14,512.39H470.94M476.52,471.61V514.55M474.62,471.61H478.42M474.62,514.55H478.42M484.01,478.11V518.01M482.11,478.11H485.91M482.11,518.01H485.91M491.5,473.22V518.04M489.6,473.22H493.4M489.6,518.04H493.4M498.98,478.13V517.02M497.08,478.13H500.88M497.08,517.02H500.88M506.47,475.69V519.01M504.57,475.69H508.37M504.57,519.01H508.37M513.96,479.6V521.29M512.06,479.6H515.86M512.06,521.29H515.86M521.44,480.95V527.92M519.54,480.95H523.34M519.54,527.92H523.34M528.93,483.78V526.29M527.03,483.78H530.83M527.03,526.29H530.83M536.42,484.47V527.45M534.52,484.47H538.32M534.52,527.45H538.32M543.9,485.67V533.7M542,485.67H545.8M542,533.7H545.8M551.39,489.3V537.03M549.49,489.3H553.29M549.49,537.03H553.29M558.88,490.14V544.26M556.98,490.14H560.78M556.98,544.26H560.78M566.36,487.85V541.94M564.46,487.85H568.26M564.46,541.94H568.26M573.85,491.53V550.11M571.95,491.53H575.75M571.95,550.11H575.75M581.34,494.6V552.56M579.44,494.6H583.24M579.44,552.56H583.24M588.82,499.12V559.09M586.92,499.12H590.72M586.92,559.09H590.72M596.31,499.02V563.2M594.41,499.02H598.21M594.41,563.2H598.21M603.79,506.62V563.59M601.89,506.62H605.69M601.89,563.59H605.69M611.28,511.87V568.95M609.38,511.87H613.18M609.38,568.95H613.18M618.77,507.37V577.83M616.87,507.37H620.67M616.87,577.83H620.67M626.25,517.74V573.94M624.35,517.74H628.15M624.35,573.94H628.15M633.74,515.13V583.55M631.84,515.13H635.64M631.84,583.55H635.64M641.23,521.6V589.81M639.33,521.6H643.13M639.33,589.81H643.13M648.71,534.19V591.76M646.81,534.19H650.61M646.81,591.76H650.61M656.2,533.98V608.82M654.3,533.98H658.1M654.3,608.82H658.1" fill="none" stroke="#008000" stroke-width="1.5"/>
<g fill="#008000" stroke="#b4ddb4" stroke-width="0.8">
<circle cx="102.2" cy="548.4" r="3.1"/>
<circle cx="109.69" cy="543.32" r="3.1"/>
<circle cx="117.17" cy="541.67" r="3.1"/>
<circle cx="124.66" cy="538.99" r="3.1"/>
<circle cx="132.15" cy="537.91" r="3.1"/>
<circle cx="139.63" cy="533.19" r="3.1"/>
<circle cx="147.12" cy="530.3" r="3.1"/>
<circle cx="154.61" cy="529.11" r="3.1"/>
<circle cx="162.09" cy="527.56" r="3.1"/>
<circle cx="169.58" cy="525.01" r="3.1"/>
<circle cx="177.06" cy="523.29" r="3.1"/>
<circle cx="184.55" cy="520.99" r="3.1"/>
<circle cx="192.04" cy="519.02" r="3.1"/>
<circle cx="199.52" cy="515.63" r="3.1"/>
<circle cx="207.01" cy="513.1" r="3.1"/>
<circle cx="214.5" cy="513.98" r="3.1"/>
<circle cx="221.98" cy="512.13" r="3.1"/>
<circle cx="229.47" cy="508.49" r="3.1"/>
<circle cx="236.96" cy="507.45" r="3.1"/>
<circle cx="244.44" cy="505.23" r="3.1"/>
<circle cx="251.93" cy="501.67" r="3.1"/>
<circle cx="259.42" cy="500.61" r="3.1"/>
<circle cx="266.9" cy="498.63" r="3.1"/>
<circle cx="274.39" cy="497.78" r="3.1"/>
<circle cx="281.88" cy="499.24" r="3.1"/>
<circle cx="289.36" cy="497.98" r="3.1"/>
<circle cx="296.85" cy="497.24" r="3.1"/>
<circle cx="304.34" cy="495.98" r="3.1"/>
<circle cx="311.82" cy="495.53" r="3.1"/>
<circle cx="319.31" cy="493.22" r="3.1"/>
<circle cx="326.79" cy="493.91" r="3.1"/>
<circle cx="334.28" cy="491.78" r="3.1"/>
<circle cx="341.77" cy="490.98" r="3.1"/>
<circle cx="349.25" cy="489.47" r="3.1"/>
<circle cx="356.74" cy="489" r="3.1"/>
<circle cx="364.23" cy="489.03" r="3.1"/>
<circle cx="371.71" cy="489.42" r="3.1"/>
<circle cx="379.2" cy="488.05" r="3.1"/>
<circle cx="386.69" cy="488.6" r="3.1"/>
<circle cx="394.17" cy="488.62" r="3.1"/>
<circle cx="401.66" cy="488.97" r="3.1"/>
<circle cx="409.15" cy="488.62" r="3.1"/>
<circle cx="416.63" cy="489" r="3.1"/>
<circle cx="424.12" cy="489" r="3.1"/>
<circle cx="431.61" cy="488.98" r="3.1"/>
<circle cx="439.09" cy="488.62" r="3.1"/>
<circle cx="446.58" cy="489" r="3.1"/>
<circle cx="454.06" cy="489" r="3.1"/>
<circle cx="461.55" cy="489.15" r="3.1"/>
<circle cx="469.04" cy="491.56" r="3.1"/>
<circle cx="476.52" cy="493.08" r="3.1"/>
<circle cx="484.01" cy="498.06" r="3.1"/>
<circle cx="491.5" cy="495.63" r="3.1"/>
<circle cx="498.98" cy="497.57" r="3.1"/>
<circle cx="506.47" cy="497.35" r="3.1"/>
<circle cx="513.96" cy="500.44" r="3.1"/>
<circle cx="521.44" cy="504.43" r="3.1"/>
<circle cx="528.93" cy="505.04" r="3.1"/>
<circle cx="536.42" cy="505.96" r="3.1"/>
<circle cx="543.9" cy="509.69" r="3.1"/>
<circle cx="551.39" cy="513.17" r="3.1"/>
<circle cx="558.88" cy="517.2" r="3.1"/>
<circle cx="566.36" cy="514.89" r="3.1"/>
<circle cx="573.85" cy="520.82" r="3.1"/>
<circle cx="581.34" cy="523.58" r="3.1"/>
<circle cx="588.82" cy="529.1" r="3.1"/>
<circle cx="596.31" cy="531.11" r="3.1"/>
<circle cx="603.79" cy="535.11" r="3.1"/>
<circle cx="611.28" cy="540.41" r="3.1"/>
<circle cx="618.77" cy="542.6" r="3.1"/>
<circle cx="626.25" cy="545.84" r="3.1"/>
<circle cx="633.74" cy="549.34" r="3.1"/>
<circle cx="641.23" cy="555.7" r="3.1"/>
<circle cx="648.71" cy="562.97" r="3.1"/>
<circle cx="656.2" cy="571.4" r="3.1"/>
</g>
<path d="M102.2,763 L105.66,762.97 L109.12,762.89 L112.59,762.75 L116.05,762.55 L119.51,762.3 L122.98,762 L126.44,761.64 L129.9,761.22 L133.36,760.75 L136.82,760.23 L140.29,759.66 L143.75,759.03 L147.21,758.35 L150.68,757.61 L154.14,756.83 L157.6,756 L161.06,755.12 L164.53,754.19 L167.99,753.21 L171.45,752.19 L174.91,751.12 L178.38,750.01 L181.84,748.85 L185.3,747.65 L188.76,746.41 L192.23,745.12 L195.69,743.8 L199.15,742.44 L202.61,741.04 L206.07,739.61 L209.54,738.14 L213,736.64 L216.46,735.1 L219.93,733.54 L223.39,731.94 L226.85,730.32 L230.31,728.66 L233.77,726.98 L237.24,725.28 L240.7,723.55 L244.16,721.8 L247.62,720.02 L251.09,718.23 L254.55,716.41 L258.01,714.58 L261.48,712.73 L264.94,710.87 L268.4,708.99 L271.86,707.09 L275.32,705.19 L278.79,703.27 L282.25,701.34 L285.71,699.4 L289.18,697.45 L292.64,695.5 L296.1,693.54 L299.56,691.58 L303.03,689.61 L306.49,687.63 L309.95,685.66 L313.41,683.68 L316.88,681.7 L320.34,679.72 L323.8,677.74 L327.26,675.77 L330.73,673.79 L334.19,671.82 L337.65,669.86 L341.11,667.89 L344.57,665.94 L348.04,663.99 L351.5,662.04 L354.96,660.1 L358.43,658.17 L361.89,656.25 L365.35,654.34 L368.81,652.43 L372.27,650.54 L375.74,648.66 L379.2,646.78 L382.66,644.92 L386.12,643.07 L389.59,641.23 L393.05,639.41 L396.51,637.59 L399.97,635.79 L403.44,634.01 L406.9,632.24 L410.36,630.48 L413.82,628.73 L417.29,627 L420.75,625.29 L424.21,623.59 L427.68,621.91 L431.14,620.24 L434.6,618.58 L438.06,616.95 L441.53,615.33 L444.99,613.72 L448.45,612.13 L451.91,610.56 L455.38,609.01 L458.84,607.47 L462.3,605.95 L465.76,604.44 L469.23,602.96 L472.69,601.49 L476.15,600.03 L479.61,598.6 L483.08,597.18 L486.54,595.78 L490,594.39 L493.46,593.03 L496.93,591.68 L500.39,590.35 L503.85,589.04 L507.31,587.74 L510.78,586.46 L514.24,585.2 L517.7,583.96 L521.16,582.73 L524.63,581.52 L528.09,580.33 L531.55,579.15 L535.01,578 L538.48,576.86 L541.94,575.74 L545.4,574.63 L548.86,573.54 L552.33,572.47 L555.79,571.42 L559.25,570.38 L562.71,569.36 L566.18,568.36 L569.64,567.38 L573.1,566.41 L576.56,565.46 L580.03,564.52 L583.49,563.6 L586.95,562.7 L590.41,561.82 L593.88,560.95 L597.34,560.09 L600.8,559.26 L604.26,558.44 L607.73,557.63 L611.19,556.85 L614.65,556.07 L618.11,555.32 L621.58,554.58 L625.04,553.86 L628.5,553.15 L631.96,552.46 L635.43,551.78 L638.89,551.12 L642.35,550.47 L645.81,549.84 L649.28,549.23 L652.74,548.63 L656.2,548.05" fill="none" stroke="#dcdcdc" stroke-width="4.3" stroke-linecap="square"/>
<path d="M102.2,763 L105.66,762.97 L109.12,762.89 L112.59,762.75 L116.05,762.55 L119.51,762.3 L122.98,762 L126.44,761.64 L129.9,761.22 L133.36,760.75 L136.82,760.23 L140.29,759.66 L143.75,759.03 L147.21,758.35 L150.68,757.61 L154.14,756.83 L157.6,756 L161.06,755.12 L164.53,754.19 L167.99,753.21 L171.45,752.19 L174.91,751.12 L178.38,750.01 L181.84,748.85 L185.3,747.65 L188.76,746.41 L192.23,745.12 L195.69,743.8 L199.15,742.44 L202.61,741.04 L206.07,739.61 L209.54,738.14 L213,736.64 L216.46,735.1 L219.93,733.54 L223.39,731.94 L226.85,730.32 L230.31,728.66 L233.77,726.98 L237.24,725.28 L240.7,723.55 L244.16,721.8 L247.62,720.02 L251.09,718.23 L254.55,716.41 L258.01,714.58 L261.48,712.73 L264.94,710.87 L268.4,708.99 L271.86,707.09 L275.32,705.19 L278.79,703.27 L282.25,701.34 L285.71,699.4 L289.18,697.45 L292.64,695.5 L296.1,693.54 L299.56,691.58 L303.03,689.61 L306.49,687.63 L309.95,685.66 L313.41,683.68 L316.88,681.7 L320.34,679.72 L323.8,677.74 L327.26,675.77 L330.73,673.79 L334.19,671.82 L337.65,669.86 L341.11,667.89 L344.57,665.94 L348.04,663.99 L351.5,662.04 L354.96,660.1 L358.43,658.17 L361.89,656.25 L365.35,654.34 L368.81,652.43 L372.27,650.54 L375.74,648.66 L379.2,646.78 L382.66,644.92 L386.12,643.07 L389.59,641.23 L393.05,639.41 L396.51,637.59 L399.97,635.79 L403.44,634.01 L406.9,632.24 L410.36,630.48 L413.82,628.73 L417.29,627 L420.75,625.29 L424.21,623.59 L427.68,621.91 L431.14,620.24 L434.6,618.58 L438.06,616.95 L441.53,615.33 L444.99,613.72 L448.45,612.13 L451.91,610.56 L455.38,609.01 L458.84,607.47 L462.3,605.95 L465.76,604.44 L469.23,602.96 L472.69,601.49 L476.15,600.03 L479.61,598.6 L483.08,597.18 L486.54,595.78 L490,594.39 L493.46,593.03 L496.93,591.68 L500.39,590.35 L503.85,589.04 L507.31,587.74 L510.78,586.46 L514.24,585.2 L517.7,583.96 L521.16,582.73 L524.63,581.52 L528.09,580.33 L531.55,579.15 L535.01,578 L538.48,576.86 L541.94,575.74 L545.4,574.63 L548.86,573.54 L552.33,572.47 L555.79,571.42 L559.25,570.38 L562.71,569.36 L566.18,568.36 L569.64,567.38 L573.1,566.41 L576.56,565.46 L580.03,564.52 L583.49,563.6 L586.95,562.7 L590.41,561.82 L593.88,560.95 L597.34,560.09 L600.8,559.26 L604.26,558.44 L607.73,557.63 L611.19,556.85 L614.65,556.07 L618.11,555.32 L621.58,554.58 L625.04,553.86 L628.5,553.15 L631.96,552.46 L635.43,551.78 L638.89,551.12 L642.35,550.47 L645.81,549.84 L649.28,549.23 L652.74,548.63 L656.2,548.05" fill="none" stroke="#a2a2a2" stroke-width="2.8" stroke-linecap="square"/>
<path d="M102.2,649.85 L105.66,648.07 L109.12,646.29 L112.59,644.5 L116.05,642.72 L119.51,640.93 L122.98,639.14 L126.44,637.35 L129.9,635.56 L133.36,633.76 L136.82,631.97 L140.29,630.18 L143.75,628.39 L147.21,626.61 L150.68,624.82 L154.14,623.04 L157.6,621.26 L161.06,619.48 L164.53,617.7 L167.99,615.93 L171.45,614.17 L174.91,612.4 L178.38,610.65 L181.84,608.89 L185.3,607.15 L188.76,605.4 L192.23,603.67 L195.69,601.94 L199.15,600.22 L202.61,598.5 L206.07,596.79 L209.54,595.09 L213,593.4 L216.46,591.71 L219.93,590.03 L223.39,588.36 L226.85,586.7 L230.31,585.05 L233.77,583.41 L237.24,581.77 L240.7,580.15 L244.16,578.53 L247.62,576.93 L251.09,575.33 L254.55,573.75 L258.01,572.17 L261.48,570.61 L264.94,569.06 L268.4,567.51 L271.86,565.98 L275.32,564.46 L278.79,562.95 L282.25,561.45 L285.71,559.97 L289.18,558.49 L292.64,557.02 L296.1,555.57 L299.56,554.13 L303.03,552.7 L306.49,551.28 L309.95,549.88 L313.41,548.48 L316.88,547.1 L320.34,545.73 L323.8,544.38 L327.26,543.03 L330.73,541.7 L334.19,540.38 L337.65,539.07 L341.11,537.77 L344.57,536.49 L348.04,535.21 L351.5,533.96 L354.96,532.71 L358.43,531.47 L361.89,530.25 L365.35,529.04 L368.81,527.84 L372.27,526.66 L375.74,525.48 L379.2,524.32 L382.66,523.18 L386.12,522.04 L389.59,520.92 L393.05,519.8 L396.51,518.7 L399.97,517.62 L403.44,516.54 L406.9,515.48 L410.36,514.43 L413.82,513.39 L417.29,512.36 L420.75,511.35 L424.21,510.35 L427.68,509.35 L431.14,508.37 L434.6,507.41 L438.06,506.45 L441.53,505.51 L444.99,504.58 L448.45,503.66 L451.91,502.75 L455.38,501.85 L458.84,500.96 L462.3,500.09 L465.76,499.22 L469.23,498.37 L472.69,497.53 L476.15,496.7 L479.61,495.88 L483.08,495.08 L486.54,494.28 L490,493.49 L493.46,492.72 L496.93,491.95 L500.39,491.2 L503.85,490.46 L507.31,489.73 L510.78,489.01 L514.24,488.3 L517.7,487.6 L521.16,486.91 L524.63,486.23 L528.09,485.56 L531.55,484.9 L535.01,484.25 L538.48,483.61 L541.94,482.99 L545.4,482.37 L548.86,481.76 L552.33,481.16 L555.79,480.57 L559.25,479.99 L562.71,479.42 L566.18,478.87 L569.64,478.32 L573.1,477.78 L576.56,477.25 L580.03,476.72 L583.49,476.21 L586.95,475.71 L590.41,475.22 L593.88,474.73 L597.34,474.26 L600.8,473.8 L604.26,473.34 L607.73,472.89 L611.19,472.46 L614.65,472.03 L618.11,471.61 L621.58,471.2 L625.04,470.79 L628.5,470.4 L631.96,470.02 L635.43,469.64 L638.89,469.27 L642.35,468.91 L645.81,468.57 L649.28,468.22 L652.74,467.89 L656.2,467.57" fill="none" stroke="#dcdcdc" stroke-width="4.3" stroke-linecap="square"/>
<path d="M102.2,649.85 L105.66,648.07 L109.12,646.29 L112.59,644.5 L116.05,642.72 L119.51,640.93 L122.98,639.14 L126.44,637.35 L129.9,635.56 L133.36,633.76 L136.82,631.97 L140.29,630.18 L143.75,628.39 L147.21,626.61 L150.68,624.82 L154.14,623.04 L157.6,621.26 L161.06,619.48 L164.53,617.7 L167.99,615.93 L171.45,614.17 L174.91,612.4 L178.38,610.65 L181.84,608.89 L185.3,607.15 L188.76,605.4 L192.23,603.67 L195.69,601.94 L199.15,600.22 L202.61,598.5 L206.07,596.79 L209.54,595.09 L213,593.4 L216.46,591.71 L219.93,590.03 L223.39,588.36 L226.85,586.7 L230.31,585.05 L233.77,583.41 L237.24,581.77 L240.7,580.15 L244.16,578.53 L247.62,576.93 L251.09,575.33 L254.55,573.75 L258.01,572.17 L261.48,570.61 L264.94,569.06 L268.4,567.51 L271.86,565.98 L275.32,564.46 L278.79,562.95 L282.25,561.45 L285.71,559.97 L289.18,558.49 L292.64,557.02 L296.1,555.57 L299.56,554.13 L303.03,552.7 L306.49,551.28 L309.95,549.88 L313.41,548.48 L316.88,547.1 L320.34,545.73 L323.8,544.38 L327.26,543.03 L330.73,541.7 L334.19,540.38 L337.65,539.07 L341.11,537.77 L344.57,536.49 L348.04,535.21 L351.5,533.96 L354.96,532.71 L358.43,531.47 L361.89,530.25 L365.35,529.04 L368.81,527.84 L372.27,526.66 L375.74,525.48 L379.2,524.32 L382.66,523.18 L386.12,522.04 L389.59,520.92 L393.05,519.8 L396.51,518.7 L399.97,517.62 L403.44,516.54 L406.9,515.48 L410.36,514.43 L413.82,513.39 L417.29,512.36 L420.75,511.35 L424.21,510.35 L427.68,509.35 L431.14,508.37 L434.6,507.41 L438.06,506.45 L441.53,505.51 L444.99,504.58 L448.45,503.66 L451.91,502.75 L455.38,501.85 L458.84,500.96 L462.3,500.09 L465.76,499.22 L469.23,498.37 L472.69,497.53 L476.15,496.7 L479.61,495.88 L483.08,495.08 L486.54,494.28 L490,493.49 L493.46,492.72 L496.93,491.95 L500.39,491.2 L503.85,490.46 L507.31,489.73 L510.78,489.01 L514.24,488.3 L517.7,487.6 L521.16,486.91 L524.63,486.23 L528.09,485.56 L531.55,484.9 L535.01,484.25 L538.48,483.61 L541.94,482.99 L545.4,482.37 L548.86,481.76 L552.33,481.16 L555.79,480.57 L559.25,479.99 L562.71,479.42 L566.18,478.87 L569.64,478.32 L573.1,477.78 L576.56,477.25 L580.03,476.72 L583.49,476.21 L586.95,475.71 L590.41,475.22 L593.88,474.73 L597.34,474.26 L600.8,473.8 L604.26,473.34 L607.73,472.89 L611.19,472.46 L614.65,472.03 L618.11,471.61 L621.58,471.2 L625.04,470.79 L628.5,470.4 L631.96,470.02 L635.43,469.64 L638.89,469.27 L642.35,468.91 L645.81,468.57 L649.28,468.22 L652.74,467.89 L656.2,467.57" fill="none" stroke="#a2a2a2" stroke-width="2.8" stroke-linecap="square"/>
<path d="M102.2,572.06 L105.66,570.33 L109.12,568.61 L112.59,566.9 L116.05,565.2 L119.51,563.51 L122.98,561.83 L126.44,560.15 L129.9,558.49 L133.36,556.84 L136.82,555.19 L140.29,553.56 L143.75,551.94 L147.21,550.33 L150.68,548.72 L154.14,547.13 L157.6,545.55 L161.06,543.98 L164.53,542.42 L167.99,540.88 L171.45,539.34 L174.91,537.81 L178.38,536.3 L181.84,534.8 L185.3,533.31 L188.76,531.83 L192.23,530.36 L195.69,528.9 L199.15,527.46 L202.61,526.03 L206.07,524.61 L209.54,523.2 L213,521.8 L216.46,520.41 L219.93,519.04 L223.39,517.68 L226.85,516.33 L230.31,514.99 L233.77,513.67 L237.24,512.35 L240.7,511.05 L244.16,509.76 L247.62,508.49 L251.09,507.22 L254.55,505.97 L258.01,504.72 L261.48,503.5 L264.94,502.28 L268.4,501.07 L271.86,499.88 L275.32,498.69 L278.79,497.52 L282.25,496.36 L285.71,495.22 L289.18,494.08 L292.64,492.96 L296.1,491.85 L299.56,490.74 L303.03,489.66 L306.49,488.58 L309.95,487.51 L313.41,486.46 L316.88,485.41 L320.34,484.38 L323.8,483.36 L327.26,482.35 L330.73,481.35 L334.19,480.36 L337.65,479.38 L341.11,478.42 L344.57,477.46 L348.04,476.52 L351.5,475.58 L354.96,474.66 L358.43,473.75 L361.89,472.84 L365.35,471.95 L368.81,471.07 L372.27,470.2 L375.74,469.34 L379.2,468.49 L382.66,467.65 L386.12,466.82 L389.59,466 L393.05,465.19 L396.51,464.39 L399.97,463.6 L403.44,462.82 L406.9,462.04 L410.36,461.28 L413.82,460.53 L417.29,459.79 L420.75,459.06 L424.21,458.33 L427.68,457.62 L431.14,456.91 L434.6,456.21 L438.06,455.53 L441.53,454.85 L444.99,454.18 L448.45,453.52 L451.91,452.87 L455.38,452.22 L458.84,451.59 L462.3,450.96 L465.76,450.35 L469.23,449.74 L472.69,449.14 L476.15,448.55 L479.61,447.96 L483.08,447.39 L486.54,446.82 L490,446.26 L493.46,445.71 L496.93,445.17 L500.39,444.63 L503.85,444.11 L507.31,443.59 L510.78,443.08 L514.24,442.57 L517.7,442.08 L521.16,441.59 L524.63,441.11 L528.09,440.63 L531.55,440.17 L535.01,439.71 L538.48,439.26 L541.94,438.81 L545.4,438.38 L548.86,437.95 L552.33,437.53 L555.79,437.11 L559.25,436.7 L562.71,436.3 L566.18,435.91 L569.64,435.52 L573.1,435.14 L576.56,434.77 L580.03,434.4 L583.49,434.04 L586.95,433.69 L590.41,433.34 L593.88,433 L597.34,432.67 L600.8,432.34 L604.26,432.02 L607.73,431.7 L611.19,431.4 L614.65,431.09 L618.11,430.8 L621.58,430.51 L625.04,430.23 L628.5,429.95 L631.96,429.68 L635.43,429.42 L638.89,429.16 L642.35,428.91 L645.81,428.66 L649.28,428.43 L652.74,428.19 L656.2,427.96" fill="none" stroke="#dcdcdc" stroke-width="4.3" stroke-linecap="square"/>
<path d="M102.2,572.06 L105.66,570.33 L109.12,568.61 L112.59,566.9 L116.05,565.2 L119.51,563.51 L122.98,561.83 L126.44,560.15 L129.9,558.49 L133.36,556.84 L136.82,555.19 L140.29,553.56 L143.75,551.94 L147.21,550.33 L150.68,548.72 L154.14,547.13 L157.6,545.55 L161.06,543.98 L164.53,542.42 L167.99,540.88 L171.45,539.34 L174.91,537.81 L178.38,536.3 L181.84,534.8 L185.3,533.31 L188.76,531.83 L192.23,530.36 L195.69,528.9 L199.15,527.46 L202.61,526.03 L206.07,524.61 L209.54,523.2 L213,521.8 L216.46,520.41 L219.93,519.04 L223.39,517.68 L226.85,516.33 L230.31,514.99 L233.77,513.67 L237.24,512.35 L240.7,511.05 L244.16,509.76 L247.62,508.49 L251.09,507.22 L254.55,505.97 L258.01,504.72 L261.48,503.5 L264.94,502.28 L268.4,501.07 L271.86,499.88 L275.32,498.69 L278.79,497.52 L282.25,496.36 L285.71,495.22 L289.18,494.08 L292.64,492.96 L296.1,491.85 L299.56,490.74 L303.03,489.66 L306.49,488.58 L309.95,487.51 L313.41,486.46 L316.88,485.41 L320.34,484.38 L323.8,483.36 L327.26,482.35 L330.73,481.35 L334.19,480.36 L337.65,479.38 L341.11,478.42 L344.57,477.46 L348.04,476.52 L351.5,475.58 L354.96,474.66 L358.43,473.75 L361.89,472.84 L365.35,471.95 L368.81,471.07 L372.27,470.2 L375.74,469.34 L379.2,468.49 L382.66,467.65 L386.12,466.82 L389.59,466 L393.05,465.19 L396.51,464.39 L399.97,463.6 L403.44,462.82 L406.9,462.04 L410.36,461.28 L413.82,460.53 L417.29,459.79 L420.75,459.06 L424.21,458.33 L427.68,457.62 L431.14,456.91 L434.6,456.21 L438.06,455.53 L441.53,454.85 L444.99,454.18 L448.45,453.52 L451.91,452.87 L455.38,452.22 L458.84,451.59 L462.3,450.96 L465.76,450.35 L469.23,449.74 L472.69,449.14 L476.15,448.55 L479.61,447.96 L483.08,447.39 L486.54,446.82 L490,446.26 L493.46,445.71 L496.93,445.17 L500.39,444.63 L503.85,444.11 L507.31,443.59 L510.78,443.08 L514.24,442.57 L517.7,442.08 L521.16,441.59 L524.63,441.11 L528.09,440.63 L531.55,440.17 L535.01,439.71 L538.48,439.26 L541.94,438.81 L545.4,438.38 L548.86,437.95 L552.33,437.53 L555.79,437.11 L559.25,436.7 L562.71,436.3 L566.18,435.91 L569.64,435.52 L573.1,435.14 L576.56,434.77 L580.03,434.4 L583.49,434.04 L586.95,433.69 L590.41,433.34 L593.88,433 L597.34,432.67 L600.8,432.34 L604.26,432.02 L607.73,431.7 L611.19,431.4 L614.65,431.09 L618.11,430.8 L621.58,430.51 L625.04,430.23 L628.5,429.95 L631.96,429.68 L635.43,429.42 L638.89,429.16 L642.35,428.91 L645.81,428.66 L649.28,428.43 L652.74,428.19 L656.2,427.96" fill="none" stroke="#a2a2a2" stroke-width="2.8" stroke-linecap="square"/>
<path d="M102.2,522.76 L105.66,521.21 L109.12,519.66 L112.59,518.13 L116.05,516.61 L119.51,515.11 L122.98,513.61 L126.44,512.13 L129.9,510.66 L133.36,509.2 L136.82,507.76 L140.29,506.33 L143.75,504.91 L147.21,503.51 L150.68,502.11 L154.14,500.73 L157.6,499.37 L161.06,498.01 L164.53,496.67 L167.99,495.34 L171.45,494.02 L174.91,492.72 L178.38,491.43 L181.84,490.15 L185.3,488.88 L188.76,487.63 L192.23,486.39 L195.69,485.16 L199.15,483.94 L202.61,482.74 L206.07,481.54 L209.54,480.36 L213,479.19 L216.46,478.04 L219.93,476.89 L223.39,475.76 L226.85,474.64 L230.31,473.53 L233.77,472.43 L237.24,471.35 L240.7,470.27 L244.16,469.21 L247.62,468.16 L251.09,467.12 L254.55,466.09 L258.01,465.07 L261.48,464.07 L264.94,463.07 L268.4,462.09 L271.86,461.12 L275.32,460.15 L278.79,459.2 L282.25,458.26 L285.71,457.33 L289.18,456.41 L292.64,455.5 L296.1,454.6 L299.56,453.72 L303.03,452.84 L306.49,451.97 L309.95,451.11 L313.41,450.26 L316.88,449.43 L320.34,448.6 L323.8,447.78 L327.26,446.97 L330.73,446.17 L334.19,445.38 L337.65,444.6 L341.11,443.83 L344.57,443.07 L348.04,442.32 L351.5,441.58 L354.96,440.84 L358.43,440.12 L361.89,439.4 L365.35,438.69 L368.81,438 L372.27,437.31 L375.74,436.62 L379.2,435.95 L382.66,435.29 L386.12,434.63 L389.59,433.98 L393.05,433.34 L396.51,432.71 L399.97,432.09 L403.44,431.48 L406.9,430.87 L410.36,430.27 L413.82,429.68 L417.29,429.09 L420.75,428.52 L424.21,427.95 L427.68,427.39 L431.14,426.84 L434.6,426.29 L438.06,425.75 L441.53,425.22 L444.99,424.7 L448.45,424.18 L451.91,423.67 L455.38,423.17 L458.84,422.67 L462.3,422.18 L465.76,421.7 L469.23,421.23 L472.69,420.76 L476.15,420.3 L479.61,419.84 L483.08,419.39 L486.54,418.95 L490,418.52 L493.46,418.09 L496.93,417.66 L500.39,417.25 L503.85,416.84 L507.31,416.43 L510.78,416.04 L514.24,415.65 L517.7,415.26 L521.16,414.88 L524.63,414.51 L528.09,414.14 L531.55,413.78 L535.01,413.42 L538.48,413.07 L541.94,412.73 L545.4,412.39 L548.86,412.05 L552.33,411.73 L555.79,411.41 L559.25,411.09 L562.71,410.78 L566.18,410.47 L569.64,410.17 L573.1,409.88 L576.56,409.59 L580.03,409.3 L583.49,409.03 L586.95,408.75 L590.41,408.48 L593.88,408.22 L597.34,407.96 L600.8,407.71 L604.26,407.46 L607.73,407.22 L611.19,406.98 L614.65,406.75 L618.11,406.52 L621.58,406.3 L625.04,406.08 L628.5,405.86 L631.96,405.66 L635.43,405.45 L638.89,405.25 L642.35,405.06 L645.81,404.87 L649.28,404.68 L652.74,404.5 L656.2,404.33" fill="none" stroke="#dcdcdc" stroke-width="4.3" stroke-linecap="square"/>
<path d="M102.2,522.76 L105.66,521.21 L109.12,519.66 L112.59,518.13 L116.05,516.61 L119.51,515.11 L122.98,513.61 L126.44,512.13 L129.9,510.66 L133.36,509.2 L136.82,507.76 L140.29,506.33 L143.75,504.91 L147.21,503.51 L150.68,502.11 L154.14,500.73 L157.6,499.37 L161.06,498.01 L164.53,496.67 L167.99,495.34 L171.45,494.02 L174.91,492.72 L178.38,491.43 L181.84,490.15 L185.3,488.88 L188.76,487.63 L192.23,486.39 L195.69,485.16 L199.15,483.94 L202.61,482.74 L206.07,481.54 L209.54,480.36 L213,479.19 L216.46,478.04 L219.93,476.89 L223.39,475.76 L226.85,474.64 L230.31,473.53 L233.77,472.43 L237.24,471.35 L240.7,470.27 L244.16,469.21 L247.62,468.16 L251.09,467.12 L254.55,466.09 L258.01,465.07 L261.48,464.07 L264.94,463.07 L268.4,462.09 L271.86,461.12 L275.32,460.15 L278.79,459.2 L282.25,458.26 L285.71,457.33 L289.18,456.41 L292.64,455.5 L296.1,454.6 L299.56,453.72 L303.03,452.84 L306.49,451.97 L309.95,451.11 L313.41,450.26 L316.88,449.43 L320.34,448.6 L323.8,447.78 L327.26,446.97 L330.73,446.17 L334.19,445.38 L337.65,444.6 L341.11,443.83 L344.57,443.07 L348.04,442.32 L351.5,441.58 L354.96,440.84 L358.43,440.12 L361.89,439.4 L365.35,438.69 L368.81,438 L372.27,437.31 L375.74,436.62 L379.2,435.95 L382.66,435.29 L386.12,434.63 L389.59,433.98 L393.05,433.34 L396.51,432.71 L399.97,432.09 L403.44,431.48 L406.9,430.87 L410.36,430.27 L413.82,429.68 L417.29,429.09 L420.75,428.52 L424.21,427.95 L427.68,427.39 L431.14,426.84 L434.6,426.29 L438.06,425.75 L441.53,425.22 L444.99,424.7 L448.45,424.18 L451.91,423.67 L455.38,423.17 L458.84,422.67 L462.3,422.18 L465.76,421.7 L469.23,421.23 L472.69,420.76 L476.15,420.3 L479.61,419.84 L483.08,419.39 L486.54,418.95 L490,418.52 L493.46,418.09 L496.93,417.66 L500.39,417.25 L503.85,416.84 L507.31,416.43 L510.78,416.04 L514.24,415.65 L517.7,415.26 L521.16,414.88 L524.63,414.51 L528.09,414.14 L531.55,413.78 L535.01,413.42 L538.48,413.07 L541.94,412.73 L545.4,412.39 L548.86,412.05 L552.33,411.73 L555.79,411.41 L559.25,411.09 L562.71,410.78 L566.18,410.47 L569.64,410.17 L573.1,409.88 L576.56,409.59 L580.03,409.3 L583.49,409.03 L586.95,408.75 L590.41,408.48 L593.88,408.22 L597.34,407.96 L600.8,407.71 L604.26,407.46 L607.73,407.22 L611.19,406.98 L614.65,406.75 L618.11,406.52 L621.58,406.3 L625.04,406.08 L628.5,405.86 L631.96,405.66 L635.43,405.45 L638.89,405.25 L642.35,405.06 L645.81,404.87 L649.28,404.68 L652.74,404.5 L656.2,404.33" fill="none" stroke="#a2a2a2" stroke-width="2.8" stroke-linecap="square"/>
</g>
<rect x="75" y="386.2" width="608.3" height="394.5" fill="none" stroke="#d0d0d0" stroke-width="4.4"/>
<rect x="75" y="386.2" width="608.3" height="394.5" fill="none" stroke="#000" stroke-width="2.0"/>
<line x1="69.3" y1="763" x2="74" y2="763" stroke="#d0d0d0" stroke-width="3.4" stroke-linecap="butt"/>
<line x1="69.3" y1="763" x2="74" y2="763" stroke="#000" stroke-width="1.4" stroke-linecap="butt"/>
<text x="65.5" y="771.6" font-size="24.2" text-anchor="end" fill="#000" stroke="#d4d4d4" stroke-width="2.2" stroke-linejoin="round" letter-spacing="0.9" style="">0.0</text>
<text x="65.5" y="771.6" font-size="24.2" text-anchor="end" fill="#000" stroke="#000" stroke-width="0.5" stroke-linejoin="round" letter-spacing="0.9" style="">0.0</text>
<line x1="69.3" y1="672.48" x2="74" y2="672.48" stroke="#d0d0d0" stroke-width="3.4" stroke-linecap="butt"/>
<line x1="69.3" y1="672.48" x2="74" y2="672.48" stroke="#000" stroke-width="1.4" stroke-linecap="butt"/>
<text x="65.5" y="681.08" font-size="24.2" text-anchor="end" fill="#000" stroke="#d4d4d4" stroke-width="2.2" stroke-linejoin="round" letter-spacing="0.9" style="">0.2</text>
<text x="65.5" y="681.08" font-size="24.2" text-anchor="end" fill="#000" stroke="#000" stroke-width="0.5" stroke-linejoin="round" letter-spacing="0.9" style="">0.2</text>
<line x1="69.3" y1="581.96" x2="74" y2="581.96" stroke="#d0d0d0" stroke-width="3.4" stroke-linecap="butt"/>
<line x1="69.3" y1="581.96" x2="74" y2="581.96" stroke="#000" stroke-width="1.4" stroke-linecap="butt"/>
<text x="65.5" y="590.56" font-size="24.2" text-anchor="end" fill="#000" stroke="#d4d4d4" stroke-width="2.2" stroke-linejoin="round" letter-spacing="0.9" style="">0.4</text>
<text x="65.5" y="590.56" font-size="24.2" text-anchor="end" fill="#000" stroke="#000" stroke-width="0.5" stroke-linejoin="round" letter-spacing="0.9" style="">0.4</text>
<line x1="69.3" y1="491.44" x2="74" y2="491.44" stroke="#d0d0d0" stroke-width="3.4" stroke-linecap="butt"/>
<line x1="69.3" y1="491.44" x2="74" y2="491.44" stroke="#000" stroke-width="1.4" stroke-linecap="butt"/>
<text x="65.5" y="500.04" font-size="24.2" text-anchor="end" fill="#000" stroke="#d4d4d4" stroke-width="2.2" stroke-linejoin="round" letter-spacing="0.9" style="">0.6</text>
<text x="65.5" y="500.04" font-size="24.2" text-anchor="end" fill="#000" stroke="#000" stroke-width="0.5" stroke-linejoin="round" letter-spacing="0.9" style="">0.6</text>
<line x1="69.3" y1="400.92" x2="74" y2="400.92" stroke="#d0d0d0" stroke-width="3.4" stroke-linecap="butt"/>
<line x1="69.3" y1="400.92" x2="74" y2="400.92" stroke="#000" stroke-width="1.4" stroke-linecap="butt"/>
<text x="65.5" y="409.52" font-size="24.2" text-anchor="end" fill="#000" stroke="#d4d4d4" stroke-width="2.2" stroke-linejoin="round" letter-spacing="0.9" style="">0.8</text>
<text x="65.5" y="409.52" font-size="24.2" text-anchor="end" fill="#000" stroke="#000" stroke-width="0.5" stroke-linejoin="round" letter-spacing="0.9" style="">0.8</text>
<line x1="102.2" y1="779.7" x2="102.2" y2="775.7" stroke="#d0d0d0" stroke-width="3.4" stroke-linecap="butt"/>
<line x1="102.2" y1="779.7" x2="102.2" y2="775.7" stroke="#000" stroke-width="1.4" stroke-linecap="butt"/>
<text x="102.2" y="803.5" font-size="24" text-anchor="middle" fill="#000" stroke="#d4d4d4" stroke-width="2.2" stroke-linejoin="round"  style="">0</text>
<text x="102.2" y="803.5" font-size="24" text-anchor="middle" fill="#000" stroke="#000" stroke-width="0.5" stroke-linejoin="round"  style="">0</text>
<line x1="240.7" y1="779.7" x2="240.7" y2="775.7" stroke="#d0d0d0" stroke-width="3.4" stroke-linecap="butt"/>
<line x1="240.7" y1="779.7" x2="240.7" y2="775.7" stroke="#000" stroke-width="1.4" stroke-linecap="butt"/>
<text x="239.9" y="803.5" font-size="24" text-anchor="middle" fill="#000" stroke="#d4d4d4" stroke-width="2.2" stroke-linejoin="round"  style="">0.2<tspan font-style="italic" font-size="20.5" dx="0.6">π</tspan></text>
<text x="239.9" y="803.5" font-size="24" text-anchor="middle" fill="#000" stroke="#000" stroke-width="0.5" stroke-linejoin="round"  style="">0.2<tspan font-style="italic" font-size="20.5" dx="0.6">π</tspan></text>
<line x1="379.2" y1="779.7" x2="379.2" y2="775.7" stroke="#d0d0d0" stroke-width="3.4" stroke-linecap="butt"/>
<line x1="379.2" y1="779.7" x2="379.2" y2="775.7" stroke="#000" stroke-width="1.4" stroke-linecap="butt"/>
<text x="378.4" y="803.5" font-size="24" text-anchor="middle" fill="#000" stroke="#d4d4d4" stroke-width="2.2" stroke-linejoin="round"  style="">0.4<tspan font-style="italic" font-size="20.5" dx="0.6">π</tspan></text>
<text x="378.4" y="803.5" font-size="24" text-anchor="middle" fill="#000" stroke="#000" stroke-width="0.5" stroke-linejoin="round"  style="">0.4<tspan font-style="italic" font-size="20.5" dx="0.6">π</tspan></text>
<line x1="517.7" y1="779.7" x2="517.7" y2="775.7" stroke="#d0d0d0" stroke-width="3.4" stroke-linecap="butt"/>
<line x1="517.7" y1="779.7" x2="517.7" y2="775.7" stroke="#000" stroke-width="1.4" stroke-linecap="butt"/>
<text x="516.9" y="803.5" font-size="24" text-anchor="middle" fill="#000" stroke="#d4d4d4" stroke-width="2.2" stroke-linejoin="round"  style="">0.6<tspan font-style="italic" font-size="20.5" dx="0.6">π</tspan></text>
<text x="516.9" y="803.5" font-size="24" text-anchor="middle" fill="#000" stroke="#000" stroke-width="0.5" stroke-linejoin="round"  style="">0.6<tspan font-style="italic" font-size="20.5" dx="0.6">π</tspan></text>
<line x1="656.2" y1="779.7" x2="656.2" y2="775.7" stroke="#d0d0d0" stroke-width="3.4" stroke-linecap="butt"/>
<line x1="656.2" y1="779.7" x2="656.2" y2="775.7" stroke="#000" stroke-width="1.4" stroke-linecap="butt"/>
<text x="655.4" y="803.5" font-size="24" text-anchor="middle" fill="#000" stroke="#d4d4d4" stroke-width="2.2" stroke-linejoin="round"  style="">0.8<tspan font-style="italic" font-size="20.5" dx="0.6">π</tspan></text>
<text x="655.4" y="803.5" font-size="24" text-anchor="middle" fill="#000" stroke="#000" stroke-width="0.5" stroke-linejoin="round"  style="">0.8<tspan font-style="italic" font-size="20.5" dx="0.6">π</tspan></text>
<g transform="translate(17.9,584.0) rotate(-90)">
<text x="0" y="0" font-size="25" text-anchor="middle" fill="#000" stroke="#d4d4d4" stroke-width="2.2" stroke-linejoin="round" font-style="italic" style="">η</text>
<text x="0" y="0" font-size="25" text-anchor="middle" fill="#000" stroke="#000" stroke-width="0.5" stroke-linejoin="round" font-style="italic" style="">η</text>
</g>
<text x="378.8" y="831.6" font-size="24" text-anchor="middle" fill="#000" stroke="#d4d4d4" stroke-width="2.2" stroke-linejoin="round" font-style="italic" style="">θ</text>
<text x="378.8" y="831.6" font-size="24" text-anchor="middle" fill="#000" stroke="#000" stroke-width="0.5" stroke-linejoin="round" font-style="italic" style="">θ</text>
<rect x="535.2" y="611.6" width="28.4" height="11.6" fill="#a0a0a0" stroke="#c8c8c8" stroke-width="0.8"/>
<text x="574.8" y="622.6" font-size="19.8" text-anchor="start" fill="#000" stroke="#d4d4d4" stroke-width="2.2" stroke-linejoin="round" letter-spacing="0.25" style="">Theory</text>
<text x="574.8" y="622.6" font-size="19.8" text-anchor="start" fill="#000" stroke="#000" stroke-width="0.5" stroke-linejoin="round" letter-spacing="0.25" style="">Theory</text>
<circle cx="545.3" cy="643.9" r="6.3" fill="#ff0000" stroke="#ff8080" stroke-width="0.8"/>
<text x="574.8" y="650.8" font-size="19.8" text-anchor="start" fill="#000" stroke="#d4d4d4" stroke-width="2.2" stroke-linejoin="round" letter-spacing="0.25" style="">Simulation</text>
<text x="574.8" y="650.8" font-size="19.8" text-anchor="start" fill="#000" stroke="#000" stroke-width="0.5" stroke-linejoin="round" letter-spacing="0.25" style="">Simulation</text>
<circle cx="545.3" cy="672.9" r="6.3" fill="#0000ff" stroke="#9a9aff" stroke-width="0.8"/>
<text x="574.8" y="679.8" font-size="19.8" text-anchor="start" fill="#000" stroke="#d4d4d4" stroke-width="2.2" stroke-linejoin="round" letter-spacing="0.25" style="">1 stage</text>
<text x="574.8" y="679.8" font-size="19.8" text-anchor="start" fill="#000" stroke="#000" stroke-width="0.5" stroke-linejoin="round" letter-spacing="0.25" style="">1 stage</text>
<circle cx="545.3" cy="702.3" r="6.3" fill="#ffa500" stroke="#ffd79a" stroke-width="0.8"/>
<text x="574.8" y="709.2" font-size="19.8" text-anchor="start" fill="#000" stroke="#d4d4d4" stroke-width="2.2" stroke-linejoin="round" letter-spacing="0.25" style="">2 stages</text>
<text x="574.8" y="709.2" font-size="19.8" text-anchor="start" fill="#000" stroke="#000" stroke-width="0.5" stroke-linejoin="round" letter-spacing="0.25" style="">2 stages</text>
<circle cx="545.3" cy="731.6" r="6.3" fill="#ff00ff" stroke="#ff9aff" stroke-width="0.8"/>
<text x="574.8" y="738.5" font-size="19.8" text-anchor="start" fill="#000" stroke="#d4d4d4" stroke-width="2.2" stroke-linejoin="round" letter-spacing="0.25" style="">3 stages</text>
<text x="574.8" y="738.5" font-size="19.8" text-anchor="start" fill="#000" stroke="#000" stroke-width="0.5" stroke-linejoin="round" letter-spacing="0.25" style="">3 stages</text>
<circle cx="545.3" cy="760.6" r="6.3" fill="#008000" stroke="#8fcf8f" stroke-width="0.8"/>
<text x="574.8" y="767.5" font-size="19.8" text-anchor="start" fill="#000" stroke="#d4d4d4" stroke-width="2.2" stroke-linejoin="round" letter-spacing="0.25" style="">4 stages</text>
<text x="574.8" y="767.5" font-size="19.8" text-anchor="start" fill="#000" stroke="#000" stroke-width="0.5" stroke-linejoin="round" letter-spacing="0.25" style="">4 stages</text>
</svg>
</body></html>
